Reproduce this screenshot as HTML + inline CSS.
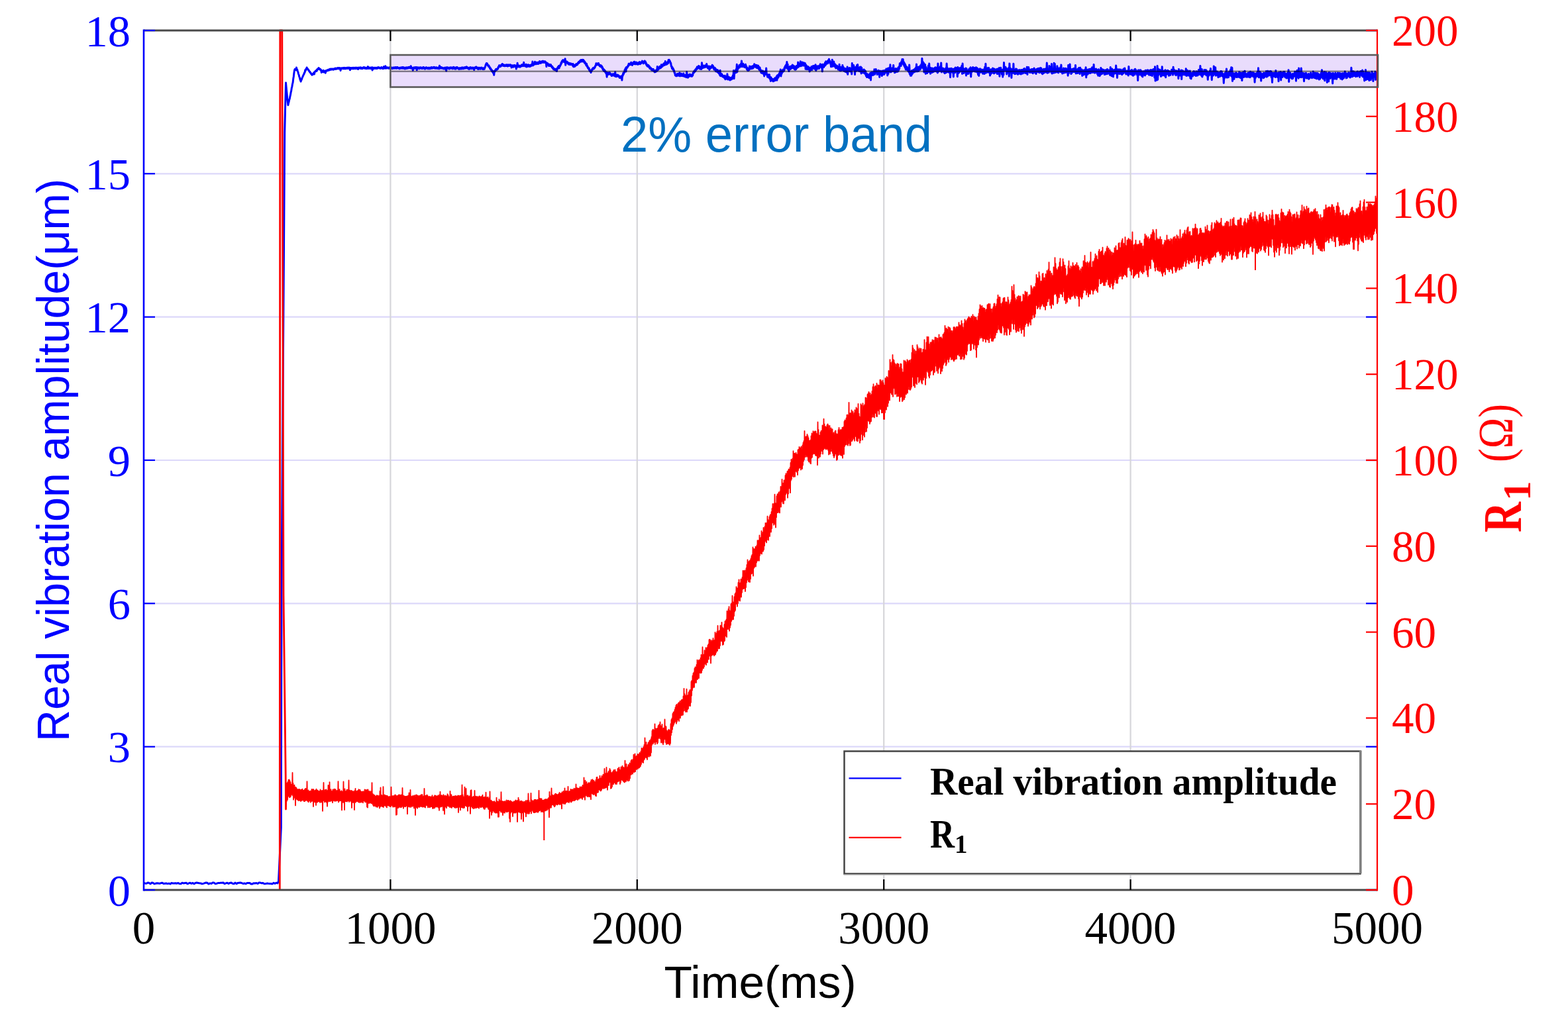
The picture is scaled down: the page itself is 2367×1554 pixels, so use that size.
<!DOCTYPE html><html><head><meta charset="utf-8"><title>Real vibration amplitude and R1 vs time</title>
<style>html,body{margin:0;padding:0;background:#fff;overflow:hidden;}svg{display:block;}.ser{font-family:"Liberation Serif","Times New Roman",serif;}.san{font-family:"Liberation Sans",Arial,sans-serif;}.mul{mix-blend-mode:multiply;}</style></head><body>
<svg width="2367" height="1554" viewBox="0 0 2367 1554">
<rect width="2367" height="1554" fill="#fff"/>
<line x1="217.0" y1="1127.7" x2="2079.0" y2="1127.7" stroke="#dcd8fa" stroke-width="2.2"/>
<line x1="217.0" y1="911.3" x2="2079.0" y2="911.3" stroke="#dcd8fa" stroke-width="2.2"/>
<line x1="217.0" y1="695.0" x2="2079.0" y2="695.0" stroke="#dcd8fa" stroke-width="2.2"/>
<line x1="217.0" y1="478.7" x2="2079.0" y2="478.7" stroke="#dcd8fa" stroke-width="2.2"/>
<line x1="217.0" y1="262.3" x2="2079.0" y2="262.3" stroke="#dcd8fa" stroke-width="2.2"/>
<line x1="589.4" y1="46.0" x2="589.4" y2="1344.0" stroke="#d6d6da" stroke-width="2.2"/>
<line x1="961.8" y1="46.0" x2="961.8" y2="1344.0" stroke="#d6d6da" stroke-width="2.2"/>
<line x1="1334.2" y1="46.0" x2="1334.2" y2="1344.0" stroke="#d6d6da" stroke-width="2.2"/>
<line x1="1706.6" y1="46.0" x2="1706.6" y2="1344.0" stroke="#d6d6da" stroke-width="2.2"/>
<rect x="589.4" y="83" width="1490.6" height="48.5" fill="#e9dcfc"/>
<path d="M217.0,1333.3 219.0,1334.0 221.0,1334.2 223.0,1333.1 225.0,1333.3 227.0,1334.9 229.0,1333.1 231.0,1333.3 233.0,1334.9 235.0,1334.2 237.0,1333.7 239.0,1334.0 241.0,1334.3 243.0,1333.6 245.0,1333.3 247.0,1334.6 249.0,1334.3 251.0,1334.0 253.0,1334.6 255.0,1334.1 257.0,1335.0 259.0,1333.4 261.0,1334.1 263.0,1334.0 265.0,1333.7 267.0,1334.2 269.0,1333.5 271.0,1334.6 273.0,1334.7 275.0,1333.3 277.0,1333.9 279.0,1333.6 281.0,1333.2 283.0,1334.8 285.0,1333.9 287.0,1333.3 289.0,1334.3 291.0,1333.4 293.0,1334.8 295.0,1333.4 297.0,1333.1 299.0,1333.4 301.0,1333.7 303.0,1333.9 305.0,1334.8 307.0,1334.4 309.0,1333.7 311.0,1333.0 313.0,1333.3 315.0,1335.0 317.0,1333.9 319.0,1334.4 321.0,1333.1 323.0,1333.1 325.0,1334.7 327.0,1334.2 329.0,1333.6 331.0,1333.6 333.0,1333.2 335.0,1333.3 337.0,1333.0 339.0,1334.7 341.0,1333.9 343.0,1333.3 345.0,1334.5 347.0,1333.4 349.0,1333.1 351.0,1334.2 353.0,1334.8 355.0,1333.1 357.0,1334.6 359.0,1333.4 361.0,1333.2 363.0,1333.0 365.0,1333.6 367.0,1334.5 369.0,1334.0 371.0,1334.7 373.0,1333.4 375.0,1333.6 377.0,1333.5 379.0,1335.0 381.0,1334.9 383.0,1333.7 385.0,1333.9 387.0,1333.6 389.0,1334.5 391.0,1333.1 393.0,1333.1 395.0,1333.8 397.0,1333.5 399.0,1334.7 401.0,1334.5 403.0,1334.1 405.0,1334.3 407.0,1334.4 409.0,1334.6 411.0,1334.9 413.0,1333.3 415.0,1334.3 417.0,1333.3 419.0,1333.9 420.5,1331.0 424.3,1250.0 425.0,900.0 429.7,200.0 431.5,125.0 432.5,135.9 433.1,141.7 433.7,148.8 434.3,154.2 434.9,158.8 435.5,155.5 436.1,153.7 436.7,150.6 437.3,149.0 437.9,145.6 438.5,143.2 439.1,139.5 439.7,137.1 440.3,132.9 440.9,130.6 441.5,126.8 442.1,124.6 442.7,119.3 443.3,115.5 443.9,110.2 444.5,106.3 445.1,104.5 445.7,105.4 446.3,104.4 446.9,105.6 447.5,101.9 448.1,105.5 448.7,105.1 449.3,107.9 449.9,108.7 450.5,111.6 451.1,112.8 451.7,115.8 452.3,116.9 452.9,119.8 453.5,121.0 454.1,123.1 454.7,120.9 455.3,120.4 455.9,118.0 456.5,117.2 457.1,115.1 457.7,114.5 458.3,112.4 458.9,112.1 459.5,109.6 460.1,109.4 460.7,105.8 461.3,106.5 461.9,104.3 462.5,103.9 463.1,102.0 463.7,103.5 464.3,103.7 464.9,105.3 465.5,105.0 466.1,106.8 466.7,106.9 467.3,108.6 467.9,108.3 468.5,110.0 469.1,110.0 469.7,111.6 470.3,111.7 470.9,113.3 471.5,112.2 472.1,112.5 472.7,111.0 473.3,111.1 473.9,109.5 474.5,112.0 475.1,108.4 475.7,108.5 476.3,107.0 476.9,107.7 477.5,106.2 478.1,107.4 478.7,104.7 479.3,105.2 479.9,103.7 480.5,103.8 481.1,102.5 481.7,104.1 482.3,103.7 482.9,105.0 483.5,104.4 484.1,106.1 484.7,105.7 485.3,109.5 485.9,106.6 486.5,107.9 487.1,107.3 487.7,108.8 488.3,106.3 488.9,109.0 489.5,107.5 490.1,108.6 490.7,107.3 491.3,110.2 491.9,106.8 492.5,107.4 493.1,106.2 493.7,106.9 494.3,105.9 494.9,106.6 495.5,105.3 496.1,106.2 496.7,105.1 497.3,105.8 497.9,104.4 498.5,105.3 499.1,104.1 499.7,105.2 500.3,104.0 500.9,105.0 501.5,104.0 502.1,104.7 502.7,104.1 503.3,105.2 503.9,104.1 504.5,104.6 505.1,103.5 505.7,104.1 506.3,103.1 506.9,104.4 507.5,103.2 508.1,104.1 508.7,103.1 509.3,103.6 509.9,102.7 510.5,103.7 511.1,102.5 511.7,103.6 512.3,102.5 512.9,103.8 513.5,102.9 514.1,106.5 514.7,103.0 515.3,104.0 515.9,102.8 516.5,103.5 517.1,102.7 517.7,103.7 518.3,102.5 518.9,103.7 519.5,102.4 520.1,103.7 520.7,102.5 521.3,103.6 521.9,102.5 522.5,103.6 523.1,102.5 523.7,103.2 524.3,102.2 524.9,103.4 525.5,102.4 526.1,103.3 526.7,102.1 527.3,103.3 527.9,102.2 528.5,105.8 529.1,102.4 529.7,103.5 530.3,102.5 530.9,103.7 531.5,102.5 532.1,103.7 532.7,102.3 533.3,103.6 533.9,102.3 534.5,103.6 535.1,102.4 535.7,103.4 536.3,102.2 536.9,103.6 537.5,102.2 538.1,103.4 538.7,102.3 539.3,103.4 539.9,102.3 540.5,104.5 541.1,102.3 541.7,103.2 542.3,102.1 542.9,102.9 543.5,102.2 544.1,103.4 544.7,101.9 545.3,103.2 545.9,102.6 546.5,103.8 547.1,102.6 547.7,103.1 548.3,101.9 548.9,103.0 549.5,101.6 550.1,103.0 550.7,102.1 551.3,103.4 551.9,102.4 552.5,103.4 553.1,102.4 553.7,103.6 554.3,102.1 554.9,103.1 555.5,100.6 556.1,103.5 556.7,102.2 557.3,103.2 557.9,102.1 558.5,103.5 559.1,102.4 559.7,103.5 560.3,102.1 560.9,103.0 561.5,101.9 562.1,106.0 562.7,102.1 563.3,103.6 563.9,102.7 564.5,103.8 565.1,102.2 565.7,103.3 566.3,102.3 566.9,103.3 567.5,102.2 568.1,103.5 568.7,102.2 569.3,103.4 569.9,102.1 570.5,103.0 571.1,101.6 571.7,102.8 572.3,101.9 572.9,102.9 573.5,102.3 574.1,103.4 574.7,102.2 575.3,103.1 575.9,101.6 576.5,102.8 577.1,102.1 577.7,103.6 578.3,102.8 578.9,103.5 579.5,100.6 580.1,103.0 580.7,101.8 581.3,102.9 581.9,99.7 582.5,103.2 583.1,101.8 583.7,102.9 584.3,101.7 584.9,102.8 585.5,102.1 586.1,103.1 586.7,102.3 587.3,103.2 587.9,101.9 588.5,103.2 589.1,102.3 589.7,103.1 590.3,101.8 590.9,103.1 591.5,102.3 592.1,103.6 592.7,102.3 593.3,103.5 593.9,102.0 594.5,102.7 595.1,101.9 595.7,103.2 596.3,101.8 596.9,102.8 597.5,101.5 598.1,103.2 598.7,101.8 599.3,103.1 599.9,101.5 600.5,102.8 601.1,102.1 601.7,103.1 602.3,102.5 602.9,103.8 603.5,102.4 604.1,103.2 604.7,102.0 605.3,103.1 605.9,102.1 606.5,103.0 607.1,101.6 607.7,103.2 608.3,101.6 608.9,103.3 609.5,101.8 610.1,103.4 610.7,102.4 611.3,104.0 611.9,102.6 612.5,103.4 613.1,101.9 613.7,103.5 614.3,102.1 614.9,103.2 615.5,101.9 616.1,103.0 616.7,101.5 617.3,102.6 617.9,101.2 618.5,102.4 619.1,101.2 619.7,103.1 620.3,99.7 620.9,102.8 621.5,102.0 622.1,103.6 622.7,102.5 623.3,106.2 623.9,102.2 624.5,103.0 625.1,101.7 625.7,103.4 626.3,102.1 626.9,103.1 627.5,101.5 628.1,103.0 628.7,101.8 629.3,105.8 629.9,101.8 630.5,102.8 631.1,101.9 631.7,103.3 632.3,102.1 632.9,103.9 633.5,102.0 634.1,103.0 634.7,101.7 635.3,103.3 635.9,102.0 636.5,103.5 637.1,102.8 637.7,103.5 638.3,101.9 638.9,103.4 639.5,101.5 640.1,103.0 640.7,102.4 641.3,104.1 641.9,102.7 642.5,103.7 643.1,101.8 643.7,102.9 644.3,102.0 644.9,103.3 645.5,102.5 646.1,103.8 646.7,102.2 647.3,103.6 647.9,102.4 648.5,103.8 649.1,102.2 649.7,103.7 650.3,102.1 650.9,103.2 651.5,101.6 652.1,103.1 652.7,102.1 653.3,103.0 653.9,101.9 654.5,102.5 655.1,101.3 655.7,102.9 656.3,101.7 656.9,103.1 657.5,102.0 658.1,103.3 658.7,101.7 659.3,103.1 659.9,102.3 660.5,103.4 661.1,102.2 661.7,103.4 662.3,101.9 662.9,103.9 663.5,99.2 664.1,103.3 664.7,101.9 665.3,103.0 665.9,101.3 666.5,103.1 667.1,102.1 667.7,103.1 668.3,102.3 668.9,103.8 669.5,102.7 670.1,103.9 670.7,102.5 671.3,104.0 671.9,102.1 672.5,104.0 673.1,102.2 673.7,107.0 674.3,101.8 674.9,103.4 675.5,101.9 676.1,102.9 676.7,102.2 677.3,103.6 677.9,102.8 678.5,104.0 679.1,102.0 679.7,103.0 680.3,101.9 680.9,103.1 681.5,102.0 682.1,103.3 682.7,102.1 683.3,103.9 683.9,101.8 684.5,103.4 685.1,101.4 685.7,103.5 686.3,102.4 686.9,104.1 687.5,102.3 688.1,104.0 688.7,101.7 689.3,103.2 689.9,101.5 690.5,103.0 691.1,102.2 691.7,103.7 692.3,102.8 692.9,104.4 693.5,102.7 694.1,104.2 694.7,102.6 695.3,104.0 695.9,102.7 696.5,104.0 697.1,102.0 697.7,103.8 698.3,102.0 698.9,103.6 699.5,102.3 700.1,103.6 700.7,102.0 701.3,102.9 701.9,101.6 702.5,103.1 703.1,101.6 703.7,102.8 704.3,100.9 704.9,102.9 705.5,101.7 706.1,103.2 706.7,102.4 707.3,104.1 707.9,102.6 708.5,104.3 709.1,102.1 709.7,103.6 710.3,101.6 710.9,103.5 711.5,102.2 712.1,103.8 712.7,102.4 713.3,103.4 713.9,102.1 714.5,103.6 715.1,102.4 715.7,105.5 716.3,102.4 716.9,103.2 717.5,101.5 718.1,102.8 718.7,101.0 719.3,103.0 719.9,101.6 720.5,103.7 721.1,102.6 721.7,104.5 722.3,102.3 722.9,104.0 723.5,102.4 724.1,104.0 724.7,102.5 725.3,104.3 725.9,102.4 726.5,103.5 727.1,102.1 727.7,104.0 728.3,102.9 728.9,104.5 729.5,102.9 730.1,104.6 730.7,103.0 731.3,104.2 731.9,101.6 732.5,101.1 733.1,98.1 733.7,97.0 734.3,95.5 734.9,97.4 735.5,95.9 736.1,98.5 736.7,98.3 737.3,100.4 737.9,99.0 738.5,101.3 739.1,101.0 739.7,103.6 740.3,102.8 740.9,105.2 741.5,104.6 742.1,107.0 742.7,106.0 743.3,108.5 743.9,107.2 744.5,110.3 745.1,108.6 745.7,113.3 746.3,107.4 746.9,108.2 747.5,106.0 748.1,106.6 748.7,104.4 749.3,105.7 749.9,104.2 750.5,105.0 751.1,103.2 751.7,103.9 752.3,100.9 752.9,101.3 753.5,98.8 754.1,100.0 754.7,98.8 755.3,100.8 755.9,99.0 756.5,99.6 757.1,97.6 757.7,98.1 758.3,96.5 758.9,99.1 759.5,97.6 760.1,99.5 760.7,97.8 761.3,99.6 761.9,98.6 762.5,99.7 763.1,98.4 763.7,99.3 764.3,97.7 764.9,99.5 765.5,98.2 766.1,100.0 766.7,97.9 767.3,99.6 767.9,98.0 768.5,99.4 769.1,98.0 769.7,99.2 770.3,97.7 770.9,99.6 771.5,98.4 772.1,101.9 772.7,99.2 773.3,100.7 773.9,98.7 774.5,101.2 775.1,99.4 775.7,100.6 776.3,98.5 776.9,100.5 777.5,98.7 778.1,100.5 778.7,99.3 779.3,104.1 779.9,99.1 780.5,101.1 781.1,95.3 781.7,101.1 782.3,99.2 782.9,100.8 783.5,99.0 784.1,101.0 784.7,99.7 785.3,101.1 785.9,99.4 786.5,100.1 787.1,98.3 787.7,99.9 788.3,97.6 788.9,99.3 789.5,98.4 790.1,99.7 790.7,94.2 791.3,99.1 791.9,98.1 792.5,99.9 793.1,98.0 793.7,100.3 794.3,97.3 794.9,100.9 795.5,99.0 796.1,100.5 796.7,98.0 797.3,99.4 797.9,97.8 798.5,100.3 799.1,98.5 799.7,100.5 800.3,98.6 800.9,100.2 801.5,98.0 802.1,99.4 802.7,97.2 803.3,98.7 803.9,92.9 804.5,99.0 805.1,96.6 805.7,98.0 806.3,95.5 806.9,97.1 807.5,93.3 808.1,96.8 808.7,95.1 809.3,96.8 809.9,94.4 810.5,96.2 811.1,94.4 811.7,96.5 812.3,94.3 812.9,96.3 813.5,93.7 814.1,95.4 814.7,92.4 815.3,95.3 815.9,93.6 816.5,95.4 817.1,93.4 817.7,94.3 818.3,92.6 818.9,94.4 819.5,92.3 820.1,94.2 820.7,92.7 821.3,94.4 821.9,92.9 822.5,94.1 823.1,92.8 823.7,95.0 824.3,94.4 824.9,100.5 825.5,95.1 826.1,97.2 826.7,95.7 827.3,97.9 827.9,97.0 828.5,99.5 829.1,97.2 829.7,99.4 830.3,97.7 830.9,99.4 831.5,97.6 832.1,100.1 832.7,99.6 833.3,102.0 833.9,100.5 834.5,103.1 835.1,102.3 835.7,104.8 836.3,103.5 836.9,105.4 837.5,104.1 838.1,105.8 838.7,104.3 839.3,106.4 839.9,104.4 840.5,107.6 841.1,103.0 841.7,103.7 842.3,100.9 842.9,101.6 843.5,99.6 844.1,102.9 844.7,99.3 845.3,100.3 845.9,97.8 846.5,98.0 847.1,94.6 847.7,95.7 848.3,92.3 848.9,93.5 849.5,90.7 850.1,91.8 850.7,90.9 851.3,93.5 851.9,92.3 852.5,94.1 853.1,88.7 853.7,98.3 854.3,92.9 854.9,94.9 855.5,92.9 856.1,94.0 856.7,93.8 857.3,96.1 857.9,95.1 858.5,97.3 859.1,95.2 859.7,97.2 860.3,95.7 860.9,97.7 861.5,95.9 862.1,97.3 862.7,96.3 863.3,97.7 863.9,97.2 864.5,99.3 865.1,96.4 865.7,100.7 866.3,99.1 866.9,100.7 867.5,98.4 868.1,100.1 868.7,97.8 869.3,98.7 869.9,96.6 870.5,98.3 871.1,96.5 871.7,97.7 872.3,95.1 872.9,95.9 873.5,93.5 874.1,95.0 874.7,92.7 875.3,93.9 875.9,91.2 876.5,92.9 877.1,90.5 877.7,93.1 878.3,90.9 878.9,92.5 879.5,90.2 880.1,92.9 880.7,90.5 881.3,93.2 881.9,92.1 882.5,95.1 883.1,93.7 883.7,96.2 884.3,95.9 884.9,98.7 885.5,96.3 886.1,100.2 886.7,99.4 887.3,102.4 887.9,101.7 888.5,104.1 889.1,102.9 889.7,106.2 890.3,105.6 890.9,108.0 891.5,106.9 892.1,109.6 892.7,105.9 893.3,107.0 893.9,104.3 894.5,105.0 895.1,102.7 895.7,103.6 896.3,102.2 896.9,103.6 897.5,101.6 898.1,101.9 898.7,99.3 899.3,99.2 899.9,95.8 900.5,98.1 901.1,96.2 901.7,97.9 902.3,95.9 902.9,96.9 903.5,95.5 904.1,98.5 904.7,97.5 905.3,99.9 905.9,98.9 906.5,100.8 907.1,98.6 907.7,100.8 908.3,99.5 908.9,102.6 909.5,101.6 910.1,105.3 910.7,103.8 911.3,106.7 911.9,105.2 912.5,107.7 913.1,106.3 913.7,109.0 914.3,108.2 914.9,110.8 915.5,109.5 916.1,116.2 916.7,109.6 917.3,111.4 917.9,109.9 918.5,112.5 919.1,109.9 919.7,111.6 920.3,109.4 920.9,112.1 921.5,111.0 922.1,113.0 922.7,111.9 923.3,114.6 923.9,112.6 924.5,114.1 925.1,111.8 925.7,113.6 926.3,111.7 926.9,114.2 927.5,112.5 928.1,114.9 928.7,108.7 929.3,115.6 929.9,113.7 930.5,115.7 931.1,113.1 931.7,115.0 932.3,113.0 932.9,115.3 933.5,113.6 934.1,116.0 934.7,114.8 935.3,117.5 935.9,115.5 936.5,117.6 937.1,115.4 937.7,117.7 938.3,114.9 938.9,121.1 939.5,113.7 940.1,114.6 940.7,110.6 941.3,112.0 941.9,108.9 942.5,109.6 943.1,105.6 943.7,106.1 944.3,103.0 944.9,108.0 945.5,101.6 946.1,103.2 946.7,101.2 947.3,101.6 947.9,99.1 948.5,99.8 949.1,96.2 949.7,98.0 950.3,96.2 950.9,97.7 951.5,96.1 952.1,97.7 952.7,94.2 953.3,96.8 953.9,95.2 954.5,98.5 955.1,95.6 955.7,96.8 956.3,94.1 956.9,94.8 957.5,93.2 958.1,96.7 958.7,94.6 959.3,96.9 959.9,94.1 960.5,96.3 961.1,94.1 961.7,96.9 962.3,95.2 962.9,97.2 963.5,95.3 964.1,96.8 964.7,93.9 965.3,96.2 965.9,93.6 966.5,96.7 967.1,94.2 967.7,95.9 968.3,93.8 968.9,94.3 969.5,92.1 970.1,94.5 970.7,93.0 971.3,95.9 971.9,93.2 972.5,94.7 973.1,92.0 973.7,94.4 974.3,92.8 974.9,96.5 975.5,95.3 976.1,98.8 976.7,97.9 977.3,100.2 977.9,98.0 978.5,100.5 979.1,98.7 979.7,101.5 980.3,100.2 980.9,103.6 981.5,101.6 982.1,103.7 982.7,102.7 983.3,105.3 983.9,104.7 984.5,106.3 985.1,104.4 985.7,106.4 986.3,104.5 986.9,107.0 987.5,106.6 988.1,108.9 988.7,107.0 989.3,108.7 989.9,106.3 990.5,108.0 991.1,105.5 991.7,107.0 992.3,100.5 992.9,106.1 993.5,103.2 994.1,104.8 994.7,101.8 995.3,102.9 995.9,100.4 996.5,103.0 997.1,100.8 997.7,102.4 998.3,97.7 998.9,101.3 999.5,98.1 1000.1,100.2 1000.7,97.5 1001.3,99.2 1001.9,96.0 1002.5,98.3 1003.1,95.2 1003.7,98.2 1004.3,92.6 1004.9,97.4 1005.5,95.0 1006.1,97.4 1006.7,94.8 1007.3,96.5 1007.9,93.2 1008.5,95.7 1009.1,90.4 1009.7,92.7 1010.3,90.4 1010.9,92.7 1011.5,92.5 1012.1,95.6 1012.7,95.1 1013.3,100.2 1013.9,100.0 1014.5,103.6 1015.1,101.7 1015.7,104.7 1016.3,103.5 1016.9,106.6 1017.5,106.1 1018.1,110.0 1018.7,110.0 1019.3,113.8 1019.9,112.7 1020.5,114.8 1021.1,112.7 1021.7,114.7 1022.3,111.5 1022.9,113.7 1023.5,111.5 1024.1,114.2 1024.7,112.6 1025.3,114.2 1025.9,109.7 1026.5,114.9 1027.1,112.2 1027.7,114.2 1028.3,111.2 1028.9,114.5 1029.5,111.8 1030.1,114.7 1030.7,112.5 1031.3,114.5 1031.9,111.0 1032.5,115.3 1033.1,113.1 1033.7,115.6 1034.3,113.5 1034.9,116.0 1035.5,112.9 1036.1,116.7 1036.7,108.4 1037.3,115.8 1037.9,113.5 1038.5,117.2 1039.1,113.1 1039.7,115.7 1040.3,113.8 1040.9,115.2 1041.5,112.1 1042.1,114.3 1042.7,112.8 1043.3,115.2 1043.9,113.1 1044.5,115.3 1045.1,112.7 1045.7,114.0 1046.3,109.6 1046.9,110.3 1047.5,107.8 1048.1,109.2 1048.7,106.2 1049.3,107.9 1049.9,104.8 1050.5,106.1 1051.1,103.3 1051.7,104.1 1052.3,101.0 1052.9,104.1 1053.5,100.8 1054.1,102.3 1054.7,99.5 1055.3,102.5 1055.9,100.1 1056.5,103.9 1057.1,101.3 1057.7,104.3 1058.3,101.4 1058.9,104.4 1059.5,94.8 1060.1,102.6 1060.7,99.7 1061.3,102.6 1061.9,99.1 1062.5,101.9 1063.1,99.9 1063.7,101.8 1064.3,98.9 1064.9,101.2 1065.5,98.6 1066.1,100.5 1066.7,96.5 1067.3,101.4 1067.9,99.6 1068.5,103.0 1069.1,100.2 1069.7,103.5 1070.3,100.0 1070.9,105.4 1071.5,100.6 1072.1,103.5 1072.7,100.4 1073.3,102.9 1073.9,100.2 1074.5,101.0 1075.1,98.2 1075.7,100.6 1076.3,99.3 1076.9,103.2 1077.5,102.1 1078.1,105.2 1078.7,101.9 1079.3,104.8 1079.9,103.2 1080.5,107.7 1081.1,104.8 1081.7,108.0 1082.3,105.5 1082.9,108.6 1083.5,105.8 1084.1,109.7 1084.7,107.4 1085.3,110.9 1085.9,108.6 1086.5,113.3 1087.1,106.2 1087.7,114.8 1088.3,111.7 1088.9,113.9 1089.5,111.6 1090.1,115.3 1090.7,113.4 1091.3,116.1 1091.9,114.9 1092.5,116.6 1093.1,114.5 1093.7,117.9 1094.3,114.2 1094.9,119.8 1095.5,115.8 1096.1,118.4 1096.7,115.4 1097.3,118.9 1097.9,111.8 1098.5,119.9 1099.1,116.2 1099.7,119.1 1100.3,116.1 1100.9,120.3 1101.5,117.1 1102.1,121.0 1102.7,117.8 1103.3,120.3 1103.9,117.2 1104.5,119.7 1105.1,116.6 1105.7,118.7 1106.3,114.0 1106.9,115.6 1107.5,106.6 1108.1,118.7 1108.7,109.1 1109.3,110.7 1109.9,106.8 1110.5,109.0 1111.1,104.8 1111.7,109.4 1112.3,97.3 1112.9,108.6 1113.5,101.8 1114.1,104.3 1114.7,101.0 1115.3,101.9 1115.9,98.4 1116.5,102.0 1117.1,98.1 1117.7,100.6 1118.3,96.4 1118.9,100.1 1119.5,91.9 1120.1,100.8 1120.7,97.9 1121.3,100.3 1121.9,96.2 1122.5,100.7 1123.1,97.9 1123.7,101.3 1124.3,98.4 1124.9,101.8 1125.5,97.2 1126.1,101.9 1126.7,99.9 1127.3,104.6 1127.9,102.2 1128.5,106.2 1129.1,104.0 1129.7,106.6 1130.3,102.9 1130.9,105.6 1131.5,100.0 1132.1,104.2 1132.7,100.6 1133.3,103.4 1133.9,100.4 1134.5,103.7 1135.1,100.6 1135.7,103.4 1136.3,99.8 1136.9,103.1 1137.5,99.3 1138.1,100.6 1138.7,96.8 1139.3,101.1 1139.9,97.9 1140.5,100.4 1141.1,98.2 1141.7,102.1 1142.3,98.5 1142.9,102.7 1143.5,99.0 1144.1,102.1 1144.7,99.2 1145.3,104.2 1145.9,101.2 1146.5,105.9 1147.1,102.1 1147.7,106.4 1148.3,105.5 1148.9,109.7 1149.5,106.6 1150.1,110.4 1150.7,107.1 1151.3,109.8 1151.9,107.1 1152.5,111.9 1153.1,110.0 1153.7,114.9 1154.3,108.4 1154.9,112.2 1155.5,107.6 1156.1,111.2 1156.7,103.1 1157.3,113.0 1157.9,112.0 1158.5,116.0 1159.1,113.0 1159.7,116.7 1160.3,112.8 1160.9,117.2 1161.5,112.8 1162.1,119.1 1162.7,116.4 1163.3,122.4 1163.9,116.8 1164.5,121.1 1165.1,118.6 1165.7,121.4 1166.3,119.5 1166.9,122.7 1167.5,120.1 1168.1,122.6 1168.7,119.0 1169.3,121.8 1169.9,117.8 1170.5,121.5 1171.1,118.3 1171.7,119.4 1172.3,115.3 1172.9,121.2 1173.5,113.8 1174.1,118.0 1174.7,113.4 1175.3,116.5 1175.9,111.5 1176.5,114.4 1177.1,108.8 1177.7,112.4 1178.3,104.9 1178.9,115.0 1179.5,108.8 1180.1,111.4 1180.7,106.8 1181.3,108.9 1181.9,105.3 1182.5,108.1 1183.1,104.8 1183.7,106.7 1184.3,101.8 1184.9,103.9 1185.5,99.5 1186.1,102.1 1186.7,97.8 1187.3,101.0 1187.9,93.4 1188.5,103.6 1189.1,96.9 1189.7,104.6 1190.3,101.2 1190.9,107.6 1191.5,102.4 1192.1,104.4 1192.7,100.2 1193.3,104.4 1193.9,100.7 1194.5,103.2 1195.1,99.4 1195.7,102.4 1196.3,97.9 1196.9,102.8 1197.5,98.9 1198.1,102.5 1198.7,99.6 1199.3,104.6 1199.9,100.7 1200.5,105.2 1201.1,100.5 1201.7,104.6 1202.3,99.4 1202.9,102.9 1203.5,99.3 1204.1,101.7 1204.7,93.9 1205.3,101.2 1205.9,97.0 1206.5,99.3 1207.1,96.1 1207.7,99.7 1208.3,92.8 1208.9,99.8 1209.5,95.4 1210.1,99.2 1210.7,94.0 1211.3,98.7 1211.9,94.3 1212.5,99.0 1213.1,96.0 1213.7,99.0 1214.3,95.1 1214.9,98.1 1215.5,95.7 1216.1,104.3 1216.7,98.0 1217.3,104.2 1217.9,99.6 1218.5,104.8 1219.1,100.7 1219.7,104.0 1220.3,100.7 1220.9,104.7 1221.5,102.1 1222.1,108.0 1222.7,103.2 1223.3,106.4 1223.9,102.1 1224.5,104.4 1225.1,100.5 1225.7,105.5 1226.3,101.0 1226.9,102.9 1227.5,99.5 1228.1,102.2 1228.7,99.6 1229.3,104.0 1229.9,98.9 1230.5,103.1 1231.1,97.8 1231.7,106.5 1232.3,99.8 1232.9,103.0 1233.5,100.2 1234.1,104.0 1234.7,99.8 1235.3,102.7 1235.9,100.3 1236.5,103.6 1237.1,98.9 1237.7,101.4 1238.3,96.7 1238.9,100.9 1239.5,97.5 1240.1,102.3 1240.7,98.7 1241.3,107.9 1241.9,97.2 1242.5,100.6 1243.1,98.1 1243.7,101.5 1244.3,97.1 1244.9,99.6 1245.5,94.6 1246.1,98.5 1246.7,92.8 1247.3,96.8 1247.9,93.3 1248.5,96.0 1249.1,92.6 1249.7,95.8 1250.3,91.1 1250.9,93.1 1251.5,89.2 1252.1,93.8 1252.7,91.9 1253.3,96.0 1253.9,94.0 1254.5,100.8 1255.1,94.9 1255.7,100.4 1256.3,90.2 1256.9,100.2 1257.5,95.1 1258.1,99.8 1258.7,93.0 1259.3,98.6 1259.9,96.3 1260.5,101.1 1261.1,97.4 1261.7,102.9 1262.3,98.9 1262.9,102.5 1263.5,99.3 1264.1,103.0 1264.7,100.7 1265.3,105.0 1265.9,101.5 1266.5,105.2 1267.1,97.3 1267.7,106.3 1268.3,103.0 1268.9,106.7 1269.5,101.4 1270.1,106.2 1270.7,101.4 1271.3,104.6 1271.9,98.5 1272.5,106.0 1273.1,101.3 1273.7,107.1 1274.3,103.5 1274.9,107.6 1275.5,103.2 1276.1,108.4 1276.7,104.2 1277.3,107.6 1277.9,103.7 1278.5,109.7 1279.1,101.1 1279.7,112.3 1280.3,104.2 1280.9,106.5 1281.5,102.9 1282.1,106.9 1282.7,102.4 1283.3,107.9 1283.9,103.5 1284.5,106.5 1285.1,103.7 1285.7,112.0 1286.3,95.4 1286.9,105.3 1287.5,101.5 1288.1,104.9 1288.7,98.6 1289.3,105.9 1289.9,102.3 1290.5,112.6 1291.1,101.8 1291.7,105.5 1292.3,101.3 1292.9,107.0 1293.5,98.4 1294.1,106.3 1294.7,97.6 1295.3,105.7 1295.9,101.9 1296.5,107.3 1297.1,103.0 1297.7,106.1 1298.3,101.3 1298.9,108.0 1299.5,101.1 1300.1,111.0 1300.7,102.2 1301.3,108.1 1301.9,105.5 1302.5,109.8 1303.1,105.9 1303.7,109.7 1304.3,105.0 1304.9,110.8 1305.5,106.2 1306.1,111.9 1306.7,107.6 1307.3,114.7 1307.9,111.0 1308.5,116.5 1309.1,111.5 1309.7,116.4 1310.3,112.7 1310.9,116.8 1311.5,112.9 1312.1,117.8 1312.7,111.7 1313.3,115.5 1313.9,110.2 1314.5,120.9 1315.1,109.8 1315.7,113.8 1316.3,109.1 1316.9,113.3 1317.5,109.1 1318.1,113.4 1318.7,108.9 1319.3,112.2 1319.9,104.8 1320.5,112.3 1321.1,105.5 1321.7,109.1 1322.3,104.6 1322.9,109.5 1323.5,107.4 1324.1,112.5 1324.7,107.8 1325.3,112.0 1325.9,106.3 1326.5,112.2 1327.1,107.4 1327.7,116.5 1328.3,107.0 1328.9,111.1 1329.5,107.5 1330.1,112.2 1330.7,108.3 1331.3,114.6 1331.9,107.0 1332.5,111.1 1333.1,107.5 1333.7,112.6 1334.3,106.4 1334.9,112.3 1335.5,106.9 1336.1,110.4 1336.7,105.7 1337.3,109.3 1337.9,104.1 1338.5,108.1 1339.1,104.4 1339.7,114.0 1340.3,103.2 1340.9,111.6 1341.5,103.0 1342.1,108.3 1342.7,102.2 1343.3,107.5 1343.9,97.8 1344.5,108.9 1345.1,103.7 1345.7,108.2 1346.3,103.3 1346.9,107.1 1347.5,102.6 1348.1,107.3 1348.7,98.4 1349.3,107.4 1349.9,104.0 1350.5,109.8 1351.1,105.0 1351.7,109.0 1352.3,103.4 1352.9,107.5 1353.5,104.0 1354.1,108.4 1354.7,104.0 1355.3,108.0 1355.9,101.9 1356.5,106.3 1357.1,100.7 1357.7,103.7 1358.3,95.7 1358.9,99.7 1359.5,95.4 1360.1,99.6 1360.7,93.1 1361.3,96.1 1361.9,89.6 1362.5,93.5 1363.1,89.4 1363.7,97.5 1364.3,93.5 1364.9,99.7 1365.5,95.6 1366.1,102.2 1366.7,97.6 1367.3,105.1 1367.9,100.3 1368.5,105.0 1369.1,100.9 1369.7,105.8 1370.3,102.7 1370.9,107.4 1371.5,104.7 1372.1,109.1 1372.7,97.9 1373.3,111.9 1373.9,108.8 1374.5,114.3 1375.1,109.3 1375.7,114.2 1376.3,106.7 1376.9,112.0 1377.5,106.6 1378.1,110.3 1378.7,105.7 1379.3,108.4 1379.9,105.0 1380.5,108.8 1381.1,103.9 1381.7,108.1 1382.3,102.4 1382.9,106.9 1383.5,97.0 1384.1,108.0 1384.7,102.4 1385.3,105.8 1385.9,101.4 1386.5,107.6 1387.1,100.9 1387.7,104.3 1388.3,100.7 1388.9,105.3 1389.5,98.9 1390.1,103.4 1390.7,97.3 1391.3,101.8 1391.9,88.3 1392.5,101.6 1393.1,93.2 1393.7,103.7 1394.3,94.9 1394.9,109.0 1395.5,96.7 1396.1,101.7 1396.7,97.8 1397.3,111.5 1397.9,101.3 1398.5,108.1 1399.1,104.5 1399.7,110.5 1400.3,104.6 1400.9,108.2 1401.5,99.1 1402.1,108.7 1402.7,96.1 1403.3,108.8 1403.9,102.0 1404.5,111.3 1405.1,102.6 1405.7,109.1 1406.3,103.2 1406.9,109.6 1407.5,102.9 1408.1,108.8 1408.7,103.4 1409.3,108.4 1409.9,103.4 1410.5,107.3 1411.1,102.5 1411.7,107.6 1412.3,101.7 1412.9,107.7 1413.5,102.2 1414.1,108.2 1414.7,102.4 1415.3,109.9 1415.9,96.1 1416.5,108.3 1417.1,102.0 1417.7,106.9 1418.3,102.2 1418.9,106.9 1419.5,100.5 1420.1,107.0 1420.7,94.9 1421.3,109.0 1421.9,104.4 1422.5,107.3 1423.1,102.9 1423.7,106.8 1424.3,103.4 1424.9,109.3 1425.5,104.4 1426.1,110.7 1426.7,105.1 1427.3,110.0 1427.9,102.7 1428.5,109.6 1429.1,96.0 1429.7,108.1 1430.3,102.7 1430.9,108.5 1431.5,103.9 1432.1,109.2 1432.7,104.2 1433.3,107.6 1433.9,103.6 1434.5,116.8 1435.1,104.2 1435.7,109.0 1436.3,103.3 1436.9,108.6 1437.5,105.6 1438.1,109.4 1438.7,104.2 1439.3,116.0 1439.9,104.7 1440.5,110.1 1441.1,103.3 1441.7,109.6 1442.3,102.1 1442.9,107.2 1443.5,102.6 1444.1,108.1 1444.7,105.0 1445.3,115.7 1445.9,101.6 1446.5,111.0 1447.1,102.8 1447.7,109.5 1448.3,103.4 1448.9,108.4 1449.5,102.5 1450.1,106.9 1450.7,102.1 1451.3,106.0 1451.9,99.3 1452.5,111.5 1453.1,96.1 1453.7,108.8 1454.3,103.4 1454.9,110.6 1455.5,105.6 1456.1,108.7 1456.7,104.1 1457.3,107.6 1457.9,103.0 1458.5,114.1 1459.1,103.8 1459.7,109.4 1460.3,106.5 1460.9,111.5 1461.5,106.7 1462.1,111.3 1462.7,104.6 1463.3,109.1 1463.9,103.2 1464.5,107.4 1465.1,101.8 1465.7,115.9 1466.3,104.1 1466.9,107.3 1467.5,102.8 1468.1,107.9 1468.7,101.6 1469.3,107.1 1469.9,102.2 1470.5,107.0 1471.1,102.5 1471.7,108.0 1472.3,103.5 1472.9,108.3 1473.5,101.8 1474.1,107.8 1474.7,102.5 1475.3,109.3 1475.9,103.5 1476.5,113.0 1477.1,104.4 1477.7,114.4 1478.3,104.7 1478.9,108.7 1479.5,103.8 1480.1,109.2 1480.7,105.4 1481.3,108.9 1481.9,105.1 1482.5,109.0 1483.1,105.6 1483.7,111.3 1484.3,106.2 1484.9,110.0 1485.5,104.6 1486.1,111.5 1486.7,101.3 1487.3,109.6 1487.9,96.3 1488.5,110.1 1489.1,103.1 1489.7,109.2 1490.3,103.2 1490.9,109.1 1491.5,102.5 1492.1,109.1 1492.7,102.4 1493.3,109.6 1493.9,105.0 1494.5,114.1 1495.1,105.5 1495.7,111.9 1496.3,104.8 1496.9,110.0 1497.5,105.9 1498.1,109.9 1498.7,102.9 1499.3,108.5 1499.9,104.3 1500.5,110.9 1501.1,104.1 1501.7,110.0 1502.3,105.3 1502.9,109.1 1503.5,104.9 1504.1,109.5 1504.7,104.6 1505.3,111.6 1505.9,103.9 1506.5,111.5 1507.1,104.0 1507.7,108.7 1508.3,102.6 1508.9,115.3 1509.5,104.1 1510.1,108.0 1510.7,102.2 1511.3,109.2 1511.9,106.9 1512.5,112.3 1513.1,105.5 1513.7,116.2 1514.3,105.0 1514.9,112.9 1515.5,94.6 1516.1,106.8 1516.7,102.7 1517.3,105.8 1517.9,101.2 1518.5,107.2 1519.1,102.9 1519.7,111.9 1520.3,106.7 1520.9,109.3 1521.5,104.4 1522.1,108.1 1522.7,102.4 1523.3,115.2 1523.9,95.9 1524.5,109.1 1525.1,103.0 1525.7,109.0 1526.3,103.9 1526.9,117.5 1527.5,104.8 1528.1,110.2 1528.7,106.9 1529.3,110.3 1529.9,96.3 1530.5,110.0 1531.1,105.2 1531.7,111.7 1532.3,105.3 1532.9,111.6 1533.5,104.0 1534.1,110.0 1534.7,104.2 1535.3,111.2 1535.9,105.9 1536.5,112.3 1537.1,106.5 1537.7,111.3 1538.3,105.8 1538.9,108.8 1539.5,105.8 1540.1,111.5 1540.7,108.1 1541.3,111.9 1541.9,105.4 1542.5,110.0 1543.1,105.8 1543.7,111.1 1544.3,105.2 1544.9,109.6 1545.5,104.0 1546.1,110.0 1546.7,103.4 1547.3,109.3 1547.9,105.2 1548.5,110.5 1549.1,104.7 1549.7,110.4 1550.3,101.2 1550.9,112.4 1551.5,102.4 1552.1,108.0 1552.7,101.6 1553.3,108.4 1553.9,104.8 1554.5,109.6 1555.1,105.6 1555.7,108.4 1556.3,105.3 1556.9,109.5 1557.5,104.5 1558.1,108.5 1558.7,104.6 1559.3,110.8 1559.9,105.3 1560.5,108.1 1561.1,102.9 1561.7,108.8 1562.3,104.9 1562.9,110.4 1563.5,107.6 1564.1,111.4 1564.7,104.4 1565.3,108.7 1565.9,104.0 1566.5,108.5 1567.1,103.5 1567.7,108.4 1568.3,103.3 1568.9,109.8 1569.5,104.3 1570.1,109.0 1570.7,102.5 1571.3,108.9 1571.9,103.0 1572.5,110.4 1573.1,105.8 1573.7,111.8 1574.3,105.3 1574.9,110.5 1575.5,104.2 1576.1,110.1 1576.7,104.9 1577.3,108.9 1577.9,104.1 1578.5,109.1 1579.1,104.1 1579.7,108.7 1580.3,95.0 1580.9,110.3 1581.5,105.0 1582.1,109.7 1582.7,105.4 1583.3,109.3 1583.9,99.6 1584.5,106.9 1585.1,100.8 1585.7,105.2 1586.3,102.5 1586.9,109.3 1587.5,96.6 1588.1,111.1 1588.7,104.7 1589.3,110.5 1589.9,105.9 1590.5,109.7 1591.1,95.2 1591.7,109.9 1592.3,96.2 1592.9,109.6 1593.5,104.4 1594.1,108.6 1594.7,104.8 1595.3,108.9 1595.9,99.8 1596.5,108.1 1597.1,102.5 1597.7,109.9 1598.3,103.5 1598.9,108.1 1599.5,103.3 1600.1,108.1 1600.7,101.7 1601.3,108.8 1601.9,97.9 1602.5,108.8 1603.1,106.1 1603.7,111.0 1604.3,105.2 1604.9,109.6 1605.5,102.9 1606.1,110.2 1606.7,104.4 1607.3,109.2 1607.9,103.4 1608.5,109.5 1609.1,103.3 1609.7,108.9 1610.3,104.4 1610.9,108.6 1611.5,104.9 1612.1,114.2 1612.7,98.4 1613.3,110.9 1613.9,99.4 1614.5,107.7 1615.1,96.9 1615.7,108.2 1616.3,104.2 1616.9,111.6 1617.5,104.9 1618.1,110.2 1618.7,104.6 1619.3,107.8 1619.9,104.1 1620.5,108.4 1621.1,103.5 1621.7,108.4 1622.3,104.3 1622.9,108.6 1623.5,98.6 1624.1,111.0 1624.7,104.9 1625.3,110.1 1625.9,105.0 1626.5,110.6 1627.1,104.2 1627.7,110.1 1628.3,102.7 1628.9,108.4 1629.5,102.4 1630.1,111.6 1630.7,102.3 1631.3,107.7 1631.9,104.6 1632.5,109.4 1633.1,105.1 1633.7,114.5 1634.3,106.3 1634.9,110.8 1635.5,106.4 1636.1,113.0 1636.7,105.7 1637.3,111.9 1637.9,106.5 1638.5,109.4 1639.1,101.8 1639.7,116.9 1640.3,105.2 1640.9,112.8 1641.5,105.8 1642.1,112.1 1642.7,104.9 1643.3,110.6 1643.9,104.7 1644.5,108.8 1645.1,104.2 1645.7,110.5 1646.3,105.2 1646.9,109.9 1647.5,103.6 1648.1,108.9 1648.7,101.7 1649.3,109.5 1649.9,103.7 1650.5,108.6 1651.1,97.4 1651.7,109.7 1652.3,105.0 1652.9,110.2 1653.5,104.6 1654.1,109.0 1654.7,104.1 1655.3,109.3 1655.9,105.6 1656.5,111.9 1657.1,106.2 1657.7,114.2 1658.3,104.7 1658.9,111.6 1659.5,106.4 1660.1,114.7 1660.7,106.1 1661.3,113.0 1661.9,102.4 1662.5,111.4 1663.1,104.2 1663.7,111.4 1664.3,105.1 1664.9,110.0 1665.5,105.3 1666.1,110.1 1666.7,107.1 1667.3,112.5 1667.9,106.1 1668.5,112.3 1669.1,105.8 1669.7,110.1 1670.3,105.7 1670.9,111.7 1671.5,104.4 1672.1,111.2 1672.7,107.2 1673.3,111.0 1673.9,106.1 1674.5,110.9 1675.1,107.0 1675.7,113.5 1676.3,101.6 1676.9,110.3 1677.5,105.1 1678.1,114.8 1678.7,104.1 1679.3,109.7 1679.9,105.7 1680.5,116.0 1681.1,106.2 1681.7,111.5 1682.3,105.3 1682.9,109.7 1683.5,105.3 1684.1,110.7 1684.7,99.1 1685.3,111.3 1685.9,104.1 1686.5,117.4 1687.1,105.7 1687.7,110.3 1688.3,105.1 1688.9,111.2 1689.5,104.8 1690.1,111.6 1690.7,107.4 1691.3,111.3 1691.9,105.1 1692.5,111.0 1693.1,107.0 1693.7,112.7 1694.3,105.9 1694.9,111.4 1695.5,104.8 1696.1,110.6 1696.7,103.8 1697.3,109.1 1697.9,103.0 1698.5,108.6 1699.1,106.7 1699.7,111.9 1700.3,108.4 1700.9,111.4 1701.5,107.0 1702.1,112.4 1702.7,107.6 1703.3,114.1 1703.9,100.4 1704.5,111.7 1705.1,106.9 1705.7,111.0 1706.3,107.4 1706.9,112.3 1707.5,106.3 1708.1,111.6 1708.7,105.5 1709.3,113.3 1709.9,107.3 1710.5,114.3 1711.1,107.6 1711.7,113.0 1712.3,105.2 1712.9,112.8 1713.5,104.2 1714.1,109.2 1714.7,105.6 1715.3,110.8 1715.9,107.7 1716.5,113.2 1717.1,109.5 1717.7,121.4 1718.3,106.1 1718.9,113.0 1719.5,105.9 1720.1,111.8 1720.7,106.0 1721.3,112.9 1721.9,105.8 1722.5,111.2 1723.1,107.5 1723.7,114.8 1724.3,109.5 1724.9,116.0 1725.5,108.0 1726.1,112.7 1726.7,107.8 1727.3,113.0 1727.9,108.2 1728.5,113.9 1729.1,106.2 1729.7,112.1 1730.3,106.3 1730.9,111.2 1731.5,107.1 1732.1,111.4 1732.7,105.7 1733.3,111.2 1733.9,106.4 1734.5,113.2 1735.1,107.3 1735.7,111.3 1736.3,105.9 1736.9,113.6 1737.5,105.5 1738.1,111.3 1738.7,107.4 1739.3,114.6 1739.9,105.4 1740.5,110.0 1741.1,104.5 1741.7,111.6 1742.3,106.2 1742.9,117.2 1743.5,100.7 1744.1,122.1 1744.7,109.5 1745.3,115.3 1745.9,110.9 1746.5,120.9 1747.1,99.6 1747.7,120.2 1748.3,103.7 1748.9,113.4 1749.5,107.3 1750.1,111.5 1750.7,105.2 1751.3,111.9 1751.9,106.8 1752.5,115.5 1753.1,106.0 1753.7,110.2 1754.3,100.7 1754.9,114.0 1755.5,106.7 1756.1,113.1 1756.7,108.1 1757.3,113.8 1757.9,106.8 1758.5,114.6 1759.1,105.8 1759.7,116.8 1760.3,106.7 1760.9,112.2 1761.5,107.4 1762.1,111.2 1762.7,106.3 1763.3,112.0 1763.9,106.9 1764.5,114.3 1765.1,107.6 1765.7,113.4 1766.3,109.2 1766.9,113.2 1767.5,108.1 1768.1,110.8 1768.7,105.2 1769.3,109.9 1769.9,107.1 1770.5,113.2 1771.1,101.2 1771.7,110.5 1772.3,105.0 1772.9,109.4 1773.5,106.4 1774.1,112.8 1774.7,108.5 1775.3,113.7 1775.9,106.7 1776.5,112.4 1777.1,108.2 1777.7,112.5 1778.3,107.2 1778.9,118.7 1779.5,104.4 1780.1,112.0 1780.7,107.6 1781.3,114.1 1781.9,109.4 1782.5,111.7 1783.1,106.1 1783.7,119.6 1784.3,106.4 1784.9,112.4 1785.5,106.8 1786.1,112.8 1786.7,107.8 1787.3,112.2 1787.9,108.3 1788.5,113.0 1789.1,108.2 1789.7,113.1 1790.3,103.7 1790.9,114.5 1791.5,107.6 1792.1,114.1 1792.7,106.3 1793.3,111.9 1793.9,107.6 1794.5,114.1 1795.1,108.9 1795.7,114.5 1796.3,107.1 1796.9,118.1 1797.5,110.3 1798.1,118.9 1798.7,110.5 1799.3,114.4 1799.9,111.1 1800.5,115.1 1801.1,108.6 1801.7,112.6 1802.3,107.4 1802.9,113.0 1803.5,109.4 1804.1,113.8 1804.7,109.6 1805.3,114.5 1805.9,107.8 1806.5,114.1 1807.1,108.7 1807.7,114.0 1808.3,108.1 1808.9,113.0 1809.5,105.6 1810.1,112.5 1810.7,106.4 1811.3,112.2 1811.9,99.6 1812.5,113.0 1813.1,107.8 1813.7,114.4 1814.3,104.5 1814.9,116.1 1815.5,110.6 1816.1,113.3 1816.7,108.4 1817.3,111.2 1817.9,105.6 1818.5,111.8 1819.1,107.6 1819.7,112.2 1820.3,105.6 1820.9,113.7 1821.5,106.8 1822.1,113.1 1822.7,109.6 1823.3,120.3 1823.9,108.9 1824.5,114.5 1825.1,108.9 1825.7,113.0 1826.3,106.9 1826.9,111.4 1827.5,103.4 1828.1,113.3 1828.7,109.5 1829.3,120.7 1829.9,109.5 1830.5,113.7 1831.1,107.5 1831.7,114.0 1832.3,99.9 1832.9,111.6 1833.5,106.5 1834.1,112.1 1834.7,101.7 1835.3,114.2 1835.9,108.2 1836.5,113.6 1837.1,108.1 1837.7,113.6 1838.3,109.1 1838.9,116.7 1839.5,111.4 1840.1,115.8 1840.7,109.3 1841.3,115.7 1841.9,109.2 1842.5,114.7 1843.1,107.4 1843.7,112.8 1844.3,107.9 1844.9,114.7 1845.5,110.9 1846.1,115.7 1846.7,112.1 1847.3,125.4 1847.9,113.8 1848.5,118.2 1849.1,110.4 1849.7,115.8 1850.3,108.8 1850.9,116.3 1851.5,103.9 1852.1,117.3 1852.7,110.5 1853.3,115.4 1853.9,111.3 1854.5,116.7 1855.1,108.7 1855.7,113.9 1856.3,107.9 1856.9,111.4 1857.5,105.6 1858.1,114.3 1858.7,101.8 1859.3,115.5 1859.9,102.3 1860.5,122.4 1861.1,113.0 1861.7,116.9 1862.3,110.8 1862.9,119.4 1863.5,111.6 1864.1,115.6 1864.7,110.8 1865.3,116.0 1865.9,109.7 1866.5,116.6 1867.1,110.8 1867.7,116.3 1868.3,111.9 1868.9,116.3 1869.5,111.4 1870.1,116.1 1870.7,108.7 1871.3,116.7 1871.9,110.0 1872.5,117.6 1873.1,110.1 1873.7,117.9 1874.3,111.8 1874.9,121.6 1875.5,110.3 1876.1,115.3 1876.7,108.8 1877.3,116.5 1877.9,110.7 1878.5,115.7 1879.1,107.2 1879.7,115.7 1880.3,110.9 1880.9,115.8 1881.5,111.8 1882.1,116.2 1882.7,112.9 1883.3,115.9 1883.9,110.2 1884.5,116.1 1885.1,109.5 1885.7,116.3 1886.3,113.3 1886.9,116.8 1887.5,108.2 1888.1,115.8 1888.7,110.3 1889.3,114.3 1889.9,109.5 1890.5,113.4 1891.1,109.5 1891.7,115.7 1892.3,109.7 1892.9,116.2 1893.5,111.2 1894.1,124.2 1894.7,111.2 1895.3,117.6 1895.9,111.3 1896.5,115.6 1897.1,110.5 1897.7,114.4 1898.3,108.3 1898.9,115.3 1899.5,102.8 1900.1,116.8 1900.7,111.9 1901.3,116.7 1901.9,108.5 1902.5,115.1 1903.1,110.0 1903.7,122.1 1904.3,111.6 1904.9,117.0 1905.5,112.4 1906.1,116.6 1906.7,111.2 1907.3,117.8 1907.9,109.9 1908.5,116.8 1909.1,110.4 1909.7,115.3 1910.3,110.7 1910.9,115.1 1911.5,107.6 1912.1,116.2 1912.7,110.2 1913.3,115.3 1913.9,107.3 1914.5,114.3 1915.1,107.9 1915.7,112.7 1916.3,109.7 1916.9,113.8 1917.5,107.4 1918.1,113.9 1918.7,107.8 1919.3,117.0 1919.9,111.5 1920.5,124.4 1921.1,110.3 1921.7,114.6 1922.3,111.3 1922.9,115.3 1923.5,110.2 1924.1,115.5 1924.7,110.2 1925.3,116.6 1925.9,106.4 1926.5,115.2 1927.1,110.4 1927.7,116.1 1928.3,110.4 1928.9,116.7 1929.5,111.9 1930.1,122.8 1930.7,109.3 1931.3,114.4 1931.9,110.4 1932.5,114.3 1933.1,108.6 1933.7,121.0 1934.3,109.4 1934.9,116.5 1935.5,109.4 1936.1,116.4 1936.7,109.6 1937.3,113.8 1937.9,108.4 1938.5,114.4 1939.1,108.5 1939.7,116.3 1940.3,111.1 1940.9,117.0 1941.5,111.6 1942.1,118.1 1942.7,112.4 1943.3,117.0 1943.9,109.6 1944.5,118.0 1945.1,105.8 1945.7,123.5 1946.3,112.9 1946.9,116.9 1947.5,109.7 1948.1,117.1 1948.7,111.9 1949.3,117.7 1949.9,114.8 1950.5,119.0 1951.1,111.4 1951.7,118.4 1952.3,112.4 1952.9,115.8 1953.5,111.0 1954.1,114.8 1954.7,108.2 1955.3,113.9 1955.9,110.1 1956.5,122.2 1957.1,108.0 1957.7,117.0 1958.3,106.2 1958.9,114.4 1959.5,109.8 1960.1,118.2 1960.7,103.0 1961.3,115.9 1961.9,110.4 1962.5,116.5 1963.1,112.9 1963.7,116.5 1964.3,103.0 1964.9,116.7 1965.5,110.1 1966.1,115.0 1966.7,110.2 1967.3,116.5 1967.9,110.8 1968.5,122.7 1969.1,110.9 1969.7,117.1 1970.3,111.6 1970.9,117.3 1971.5,110.3 1972.1,118.1 1972.7,112.5 1973.3,118.0 1973.9,112.5 1974.5,117.7 1975.1,111.5 1975.7,119.3 1976.3,113.3 1976.9,118.2 1977.5,111.8 1978.1,117.0 1978.7,109.7 1979.3,116.7 1979.9,112.4 1980.5,117.8 1981.1,114.0 1981.7,116.9 1982.3,107.9 1982.9,116.1 1983.5,110.2 1984.1,117.7 1984.7,110.3 1985.3,115.8 1985.9,110.3 1986.5,118.5 1987.1,111.9 1987.7,118.9 1988.3,110.6 1988.9,118.2 1989.5,110.9 1990.1,118.8 1990.7,112.0 1991.3,120.1 1991.9,114.7 1992.5,119.3 1993.1,112.5 1993.7,116.1 1994.3,110.1 1994.9,117.1 1995.5,105.7 1996.1,115.6 1996.7,111.7 1997.3,119.0 1997.9,109.9 1998.5,114.9 1999.1,108.5 1999.7,121.8 2000.3,110.9 2000.9,116.9 2001.5,108.9 2002.1,116.7 2002.7,111.2 2003.3,124.4 2003.9,111.1 2004.5,117.1 2005.1,110.4 2005.7,123.0 2006.3,109.5 2006.9,115.6 2007.5,109.9 2008.1,118.4 2008.7,110.9 2009.3,115.9 2009.9,110.9 2010.5,117.1 2011.1,112.7 2011.7,126.0 2012.3,110.4 2012.9,117.8 2013.5,111.8 2014.1,119.1 2014.7,112.6 2015.3,117.9 2015.9,110.1 2016.5,119.1 2017.1,112.2 2017.7,119.3 2018.3,111.7 2018.9,116.5 2019.5,110.0 2020.1,114.2 2020.7,111.1 2021.3,116.4 2021.9,110.6 2022.5,116.1 2023.1,110.7 2023.7,118.9 2024.3,112.4 2024.9,117.9 2025.5,111.3 2026.1,120.0 2026.7,110.7 2027.3,118.6 2027.9,111.3 2028.5,118.0 2029.1,110.5 2029.7,115.4 2030.3,108.1 2030.9,113.6 2031.5,110.2 2032.1,117.9 2032.7,111.2 2033.3,117.6 2033.9,111.2 2034.5,115.1 2035.1,110.6 2035.7,114.5 2036.3,109.5 2036.9,116.1 2037.5,111.5 2038.1,117.0 2038.7,111.1 2039.3,116.0 2039.9,102.2 2040.5,115.7 2041.1,109.4 2041.7,115.8 2042.3,107.7 2042.9,113.1 2043.5,108.1 2044.1,114.6 2044.7,110.2 2045.3,114.6 2045.9,109.3 2046.5,115.7 2047.1,109.8 2047.7,114.9 2048.3,108.8 2048.9,115.3 2049.5,108.0 2050.1,113.9 2050.7,110.1 2051.3,114.3 2051.9,109.3 2052.5,116.5 2053.1,108.2 2053.7,112.2 2054.3,107.4 2054.9,113.1 2055.5,110.0 2056.1,114.7 2056.7,106.0 2057.3,116.0 2057.9,108.0 2058.5,115.8 2059.1,110.9 2059.7,122.0 2060.3,111.7 2060.9,116.5 2061.5,105.6 2062.1,120.6 2062.7,109.2 2063.3,116.9 2063.9,113.1 2064.5,119.6 2065.1,109.4 2065.7,118.4 2066.3,113.7 2066.9,121.6 2067.5,109.8 2068.1,116.6 2068.7,112.2 2069.3,120.7 2069.9,112.4 2070.5,117.7 2071.1,108.3 2071.7,117.8 2072.3,111.1 2072.9,122.6 2073.5,112.2 2074.1,115.7 2074.7,110.7 2075.3,115.2 2075.9,108.3 2076.5,120.5 2077.1,109.5 2077.7,116.7 2078.3,112.4 2078.9,117.0" fill="none" stroke="#00f" stroke-width="3" stroke-linejoin="round"/>
<path d="M422.3,1345.0 422.8,46.0 425.8,46.0 428.0,900.0 431.2,1170.0 431.5,1222.0 432.0,1195.0" fill="none" stroke="#f00" stroke-width="2.8" stroke-linejoin="round"/>
<path d="M432.0,1209.0 432.5,1183.0 433.0,1209.5 433.5,1182.7 434.0,1207.7 434.5,1180.9 435.0,1202.8 435.5,1177.8 436.0,1201.4 436.5,1177.3 437.0,1204.3 437.5,1179.1 438.0,1203.7 438.5,1181.3 439.0,1202.5 439.5,1184.6 440.0,1200.3 440.5,1184.7 441.0,1198.5 441.5,1167.0 442.0,1201.5 442.5,1182.8 443.0,1207.7 443.5,1186.6 444.0,1201.4 444.5,1185.7 445.0,1205.1 445.5,1189.3 446.0,1216.4 446.5,1188.8 447.0,1206.4 447.5,1190.1 448.0,1206.8 448.5,1192.3 449.0,1207.9 449.5,1192.1 450.0,1207.8 450.5,1192.6 451.0,1209.1 451.5,1192.0 452.0,1208.3 452.5,1192.4 453.0,1208.6 453.5,1193.5 454.0,1210.0 454.5,1192.8 455.0,1209.0 455.5,1192.3 456.0,1207.7 456.5,1191.6 457.0,1208.6 457.5,1193.9 458.0,1207.8 458.5,1194.0 459.0,1210.1 459.5,1193.1 460.0,1210.0 460.5,1191.4 461.0,1209.0 461.5,1191.0 462.0,1207.8 462.5,1193.9 463.0,1208.7 463.5,1180.2 464.0,1209.3 464.5,1194.1 465.0,1210.6 465.5,1193.5 466.0,1211.1 466.5,1195.7 467.0,1209.4 467.5,1195.2 468.0,1208.5 468.5,1194.6 469.0,1211.6 469.5,1194.9 470.0,1210.1 470.5,1191.9 471.0,1209.7 471.5,1193.6 472.0,1209.7 472.5,1192.0 473.0,1218.1 473.5,1192.3 474.0,1210.3 474.5,1195.2 475.0,1211.4 475.5,1193.8 476.0,1210.9 476.5,1193.4 477.0,1215.9 477.5,1191.7 478.0,1210.9 478.5,1194.3 479.0,1211.7 479.5,1193.3 480.0,1210.3 480.5,1194.8 481.0,1210.4 481.5,1195.0 482.0,1210.0 482.5,1195.7 483.0,1211.9 483.5,1192.5 484.0,1208.3 484.5,1194.7 485.0,1211.5 485.5,1194.1 486.0,1211.2 486.5,1193.9 487.0,1224.8 487.5,1195.4 488.0,1208.5 488.5,1181.9 489.0,1209.0 489.5,1193.0 490.0,1211.4 490.5,1196.1 491.0,1209.8 491.5,1192.6 492.0,1210.7 492.5,1192.3 493.0,1211.8 493.5,1195.2 494.0,1217.7 494.5,1193.7 495.0,1211.0 495.5,1185.8 496.0,1209.2 496.5,1193.5 497.0,1210.0 497.5,1181.2 498.0,1210.0 498.5,1193.0 499.0,1209.7 499.5,1192.2 500.0,1209.5 500.5,1195.0 501.0,1208.3 501.5,1195.4 502.0,1212.2 502.5,1192.3 503.0,1209.1 503.5,1195.3 504.0,1207.5 504.5,1191.6 505.0,1209.8 505.5,1192.2 506.0,1208.4 506.5,1192.2 507.0,1209.8 507.5,1195.3 508.0,1209.0 508.5,1194.0 509.0,1208.6 509.5,1194.2 510.0,1209.0 510.5,1180.1 511.0,1211.4 511.5,1196.0 512.0,1209.6 512.5,1192.1 513.0,1208.9 513.5,1195.1 514.0,1209.3 514.5,1196.6 515.0,1208.9 515.5,1194.2 516.0,1223.4 516.5,1195.6 517.0,1209.3 517.5,1195.6 518.0,1211.8 518.5,1180.4 519.0,1211.7 519.5,1194.4 520.0,1223.1 520.5,1191.3 521.0,1208.4 521.5,1195.1 522.0,1210.2 522.5,1195.2 523.0,1210.2 523.5,1193.0 524.0,1210.7 524.5,1192.7 525.0,1209.3 525.5,1193.7 526.0,1208.8 526.5,1178.5 527.0,1211.0 527.5,1195.3 528.0,1209.5 528.5,1193.6 529.0,1208.6 529.5,1196.0 530.0,1210.7 530.5,1193.8 531.0,1219.9 531.5,1194.7 532.0,1210.2 532.5,1196.0 533.0,1211.9 533.5,1195.1 534.0,1210.8 534.5,1196.4 535.0,1223.1 535.5,1194.1 536.0,1211.4 536.5,1191.0 537.0,1211.7 537.5,1194.9 538.0,1209.8 538.5,1195.0 539.0,1210.1 539.5,1194.7 540.0,1209.6 540.5,1193.8 541.0,1211.5 541.5,1192.1 542.0,1209.0 542.5,1192.8 543.0,1211.9 543.5,1192.9 544.0,1211.4 544.5,1195.2 545.0,1211.4 545.5,1195.6 546.0,1211.2 546.5,1196.4 547.0,1211.4 547.5,1195.3 548.0,1212.3 548.5,1195.4 549.0,1209.4 549.5,1196.0 550.0,1209.4 550.5,1192.5 551.0,1210.9 551.5,1193.5 552.0,1211.4 552.5,1192.9 553.0,1210.3 553.5,1194.6 554.0,1218.6 554.5,1192.6 555.0,1219.5 555.5,1192.5 556.0,1210.8 556.5,1195.7 557.0,1213.1 557.5,1194.8 558.0,1212.0 558.5,1197.6 559.0,1212.7 559.5,1195.2 560.0,1212.1 560.5,1195.6 561.0,1213.4 561.5,1182.1 562.0,1213.4 562.5,1198.9 563.0,1215.5 563.5,1199.7 564.0,1217.2 564.5,1201.0 565.0,1217.1 565.5,1200.9 566.0,1216.7 566.5,1202.6 567.0,1217.4 567.5,1203.4 568.0,1218.5 568.5,1201.1 569.0,1217.5 569.5,1202.2 570.0,1218.9 570.5,1201.3 571.0,1216.5 571.5,1203.3 572.0,1217.1 572.5,1201.9 573.0,1220.6 573.5,1195.0 574.0,1218.4 574.5,1189.4 575.0,1217.2 575.5,1200.4 576.0,1217.1 576.5,1201.4 577.0,1218.3 577.5,1202.7 578.0,1217.7 578.5,1188.1 579.0,1219.0 579.5,1202.5 580.0,1215.9 580.5,1200.5 581.0,1216.6 581.5,1201.5 582.0,1216.5 582.5,1201.5 583.0,1218.4 583.5,1201.8 584.0,1219.4 584.5,1201.7 585.0,1216.0 585.5,1203.2 586.0,1216.3 586.5,1204.2 587.0,1216.7 587.5,1203.0 588.0,1217.4 588.5,1204.1 589.0,1217.8 589.5,1202.6 590.0,1218.1 590.5,1188.6 591.0,1216.2 591.5,1202.2 592.0,1216.0 592.5,1202.6 593.0,1218.5 593.5,1202.0 594.0,1217.5 594.5,1202.8 595.0,1218.5 595.5,1201.3 596.0,1217.8 596.5,1200.4 597.0,1217.9 597.5,1201.1 598.0,1230.7 598.5,1203.4 599.0,1230.1 599.5,1201.8 600.0,1219.6 600.5,1202.4 601.0,1220.3 601.5,1201.0 602.0,1218.0 602.5,1200.2 603.0,1219.0 603.5,1200.9 604.0,1216.8 604.5,1201.2 605.0,1219.3 605.5,1200.4 606.0,1218.9 606.5,1203.9 607.0,1216.0 607.5,1189.9 608.0,1218.0 608.5,1201.2 609.0,1220.8 609.5,1202.2 610.0,1216.8 610.5,1202.4 611.0,1218.0 611.5,1202.8 612.0,1218.3 612.5,1202.8 613.0,1217.0 613.5,1202.9 614.0,1215.9 614.5,1202.5 615.0,1229.2 615.5,1202.3 616.0,1216.1 616.5,1201.5 617.0,1218.0 617.5,1197.3 618.0,1218.7 618.5,1201.8 619.0,1216.2 619.5,1192.9 620.0,1218.9 620.5,1202.1 621.0,1216.1 621.5,1203.6 622.0,1217.9 622.5,1203.0 623.0,1216.8 623.5,1201.5 624.0,1217.4 624.5,1203.7 625.0,1220.4 625.5,1201.9 626.0,1218.4 626.5,1200.9 627.0,1230.9 627.5,1204.2 628.0,1216.9 628.5,1200.4 629.0,1219.2 629.5,1200.8 630.0,1220.8 630.5,1202.7 631.0,1218.3 631.5,1201.8 632.0,1218.6 632.5,1203.7 633.0,1218.9 633.5,1201.6 634.0,1218.1 634.5,1202.0 635.0,1216.6 635.5,1200.4 636.0,1217.9 636.5,1200.1 637.0,1218.1 637.5,1200.1 638.0,1218.7 638.5,1204.0 639.0,1218.3 639.5,1202.3 640.0,1218.2 640.5,1190.9 641.0,1218.8 641.5,1203.2 642.0,1219.5 642.5,1201.6 643.0,1216.4 643.5,1202.1 644.0,1215.2 644.5,1200.4 645.0,1216.6 645.5,1201.8 646.0,1219.4 646.5,1203.1 647.0,1218.8 647.5,1203.3 648.0,1218.6 648.5,1202.8 649.0,1219.4 649.5,1203.4 650.0,1217.9 650.5,1203.7 651.0,1218.1 651.5,1203.4 652.0,1218.1 652.5,1201.1 653.0,1220.8 653.5,1204.0 654.0,1220.8 654.5,1204.2 655.0,1218.7 655.5,1202.4 656.0,1220.4 656.5,1201.1 657.0,1218.7 657.5,1201.9 658.0,1218.4 658.5,1202.2 659.0,1218.2 659.5,1202.7 660.0,1218.6 660.5,1202.3 661.0,1217.2 661.5,1201.1 662.0,1219.8 662.5,1203.4 663.0,1223.8 663.5,1200.4 664.0,1218.9 664.5,1195.7 665.0,1218.1 665.5,1201.3 666.0,1218.4 666.5,1201.2 667.0,1217.5 667.5,1201.3 668.0,1217.5 668.5,1202.8 669.0,1223.9 669.5,1200.1 670.0,1217.4 670.5,1202.2 671.0,1229.4 671.5,1202.5 672.0,1218.8 672.5,1201.4 673.0,1217.4 673.5,1203.1 674.0,1220.3 674.5,1202.3 675.0,1216.2 675.5,1199.1 676.0,1217.0 676.5,1201.0 677.0,1217.6 677.5,1203.4 678.0,1216.6 678.5,1203.3 679.0,1219.1 679.5,1194.8 680.0,1217.7 680.5,1199.6 681.0,1219.5 681.5,1200.7 682.0,1219.9 682.5,1204.7 683.0,1217.4 683.5,1203.0 684.0,1218.0 684.5,1203.0 685.0,1218.2 685.5,1202.5 686.0,1219.7 686.5,1203.6 687.0,1217.6 687.5,1201.8 688.0,1220.1 688.5,1202.1 689.0,1219.1 689.5,1202.9 690.0,1219.4 690.5,1202.4 691.0,1217.9 691.5,1201.3 692.0,1226.9 692.5,1201.8 693.0,1218.9 693.5,1202.4 694.0,1218.2 694.5,1201.7 695.0,1223.4 695.5,1201.8 696.0,1219.1 696.5,1200.9 697.0,1219.4 697.5,1185.4 698.0,1218.8 698.5,1200.4 699.0,1220.2 699.5,1203.3 700.0,1220.1 700.5,1203.8 701.0,1219.7 701.5,1188.6 702.0,1216.6 702.5,1201.0 703.0,1216.4 703.5,1191.0 704.0,1217.2 704.5,1203.5 705.0,1218.1 705.5,1201.5 706.0,1224.7 706.5,1201.3 707.0,1218.0 707.5,1203.7 708.0,1216.8 708.5,1203.2 709.0,1217.2 709.5,1201.9 710.0,1228.8 710.5,1194.0 711.0,1217.9 711.5,1193.1 712.0,1217.9 712.5,1204.0 713.0,1220.2 713.5,1204.5 714.0,1217.5 714.5,1202.9 715.0,1221.2 715.5,1205.5 716.0,1218.6 716.5,1194.0 717.0,1220.4 717.5,1204.5 718.0,1217.8 718.5,1202.6 719.0,1220.2 719.5,1204.4 720.0,1218.8 720.5,1202.8 721.0,1219.4 721.5,1205.5 722.0,1219.3 722.5,1203.5 723.0,1220.7 723.5,1202.3 724.0,1216.9 724.5,1202.7 725.0,1218.8 725.5,1203.8 726.0,1219.2 726.5,1203.5 727.0,1218.6 727.5,1202.7 728.0,1217.0 728.5,1200.6 729.0,1218.6 729.5,1204.1 730.0,1220.4 730.5,1204.4 731.0,1221.9 731.5,1203.6 732.0,1221.7 732.5,1204.6 733.0,1219.0 733.5,1196.7 734.0,1218.9 734.5,1204.2 735.0,1218.6 735.5,1205.1 736.0,1219.0 736.5,1203.6 737.0,1221.5 737.5,1206.8 738.0,1222.2 738.5,1205.1 739.0,1235.7 739.5,1195.4 740.0,1222.8 740.5,1209.3 741.0,1225.5 741.5,1208.6 742.0,1230.8 742.5,1210.4 743.0,1227.2 743.5,1210.7 744.0,1224.3 744.5,1210.7 745.0,1224.7 745.5,1210.7 746.0,1226.6 746.5,1210.2 747.0,1224.6 747.5,1211.9 748.0,1227.6 748.5,1212.7 749.0,1227.0 749.5,1204.6 750.0,1227.6 750.5,1210.0 751.0,1224.8 751.5,1211.2 752.0,1233.7 752.5,1210.8 753.0,1233.5 753.5,1207.1 754.0,1222.9 754.5,1209.3 755.0,1224.2 755.5,1210.1 756.0,1226.4 756.5,1196.1 757.0,1225.2 757.5,1209.9 758.0,1226.8 758.5,1210.5 759.0,1231.1 759.5,1210.4 760.0,1227.4 760.5,1211.5 761.0,1225.4 761.5,1210.3 762.0,1227.6 762.5,1210.2 763.0,1224.6 763.5,1211.8 764.0,1225.7 764.5,1208.3 765.0,1226.4 765.5,1211.2 766.0,1225.9 766.5,1208.8 767.0,1225.3 767.5,1208.9 768.0,1225.2 768.5,1209.9 769.0,1235.8 769.5,1210.7 770.0,1241.1 770.5,1209.2 771.0,1227.7 771.5,1210.1 772.0,1226.0 772.5,1211.1 773.0,1224.7 773.5,1211.4 774.0,1232.9 774.5,1211.9 775.0,1226.4 775.5,1210.5 776.0,1227.7 776.5,1211.1 777.0,1226.1 777.5,1209.7 778.0,1227.7 778.5,1208.5 779.0,1226.7 779.5,1210.6 780.0,1226.6 780.5,1209.1 781.0,1241.1 781.5,1209.1 782.0,1226.6 782.5,1204.7 783.0,1225.7 783.5,1207.9 784.0,1226.0 784.5,1211.1 785.0,1227.2 785.5,1210.3 786.0,1224.5 786.5,1209.6 787.0,1236.9 787.5,1210.0 788.0,1225.3 788.5,1210.6 789.0,1227.4 789.5,1211.6 790.0,1240.4 790.5,1211.2 791.0,1226.1 791.5,1210.8 792.0,1224.9 792.5,1211.7 793.0,1227.3 793.5,1209.1 794.0,1233.2 794.5,1213.0 795.0,1228.2 795.5,1208.9 796.0,1224.9 796.5,1209.5 797.0,1228.9 797.5,1198.5 798.0,1227.2 798.5,1209.1 799.0,1228.6 799.5,1212.6 800.0,1225.1 800.5,1211.9 801.0,1225.4 801.5,1198.0 802.0,1228.4 802.5,1208.2 803.0,1224.3 803.5,1210.1 804.0,1222.2 804.5,1209.4 805.0,1226.2 805.5,1210.7 806.0,1227.2 806.5,1208.0 807.0,1227.2 807.5,1207.9 808.0,1226.5 808.5,1207.7 809.0,1226.4 809.5,1208.5 810.0,1226.1 810.5,1208.7 811.0,1225.2 811.5,1207.7 812.0,1226.9 812.5,1208.9 813.0,1225.3 813.5,1193.9 814.0,1224.3 814.5,1206.0 815.0,1224.0 815.5,1205.9 816.0,1222.2 816.5,1207.4 817.0,1226.0 817.5,1206.2 818.0,1225.3 818.5,1209.2 819.0,1225.8 819.5,1208.6 820.0,1226.3 820.5,1208.7 821.0,1224.0 821.5,1208.4 822.0,1224.8 822.5,1207.3 823.0,1223.3 823.5,1207.1 824.0,1224.3 824.5,1207.2 825.0,1223.1 825.5,1207.4 826.0,1223.3 826.5,1207.5 827.0,1219.7 827.5,1205.7 828.0,1221.9 828.5,1204.9 829.0,1234.2 829.5,1195.8 830.0,1220.3 830.5,1202.1 831.0,1218.2 831.5,1203.2 832.0,1219.7 832.5,1190.3 833.0,1215.6 833.5,1200.3 834.0,1215.1 834.5,1201.2 835.0,1215.3 835.5,1201.4 836.0,1216.6 836.5,1201.3 837.0,1218.3 837.5,1199.6 838.0,1217.1 838.5,1198.7 839.0,1214.5 839.5,1199.2 840.0,1214.7 840.5,1199.9 841.0,1215.4 841.5,1200.8 842.0,1215.0 842.5,1199.7 843.0,1214.1 843.5,1199.2 844.0,1213.0 844.5,1196.8 845.0,1215.1 845.5,1198.8 846.0,1214.5 846.5,1198.1 847.0,1212.9 847.5,1198.5 848.0,1221.3 848.5,1196.2 849.0,1213.2 849.5,1198.4 850.0,1212.4 850.5,1194.8 851.0,1213.9 851.5,1197.9 852.0,1210.8 852.5,1190.3 853.0,1214.1 853.5,1196.3 854.0,1212.5 854.5,1194.7 855.0,1211.0 855.5,1194.7 856.0,1211.1 856.5,1194.7 857.0,1210.4 857.5,1187.9 858.0,1211.3 858.5,1195.3 859.0,1212.0 859.5,1195.4 860.0,1210.1 860.5,1194.9 861.0,1208.4 861.5,1192.0 862.0,1211.5 862.5,1193.1 863.0,1210.5 863.5,1192.5 864.0,1209.3 864.5,1192.4 865.0,1209.2 865.5,1193.4 866.0,1206.4 866.5,1190.6 867.0,1209.2 867.5,1192.1 868.0,1208.2 868.5,1190.9 869.0,1207.8 869.5,1184.3 870.0,1207.2 870.5,1189.9 871.0,1204.2 871.5,1190.2 872.0,1208.1 872.5,1191.3 873.0,1205.9 873.5,1190.6 874.0,1206.8 874.5,1191.4 875.0,1205.3 875.5,1188.4 876.0,1204.9 876.5,1189.9 877.0,1205.2 877.5,1188.4 878.0,1204.7 878.5,1189.3 879.0,1206.9 879.5,1186.0 880.0,1204.1 880.5,1187.7 881.0,1203.5 881.5,1174.4 882.0,1203.3 882.5,1184.8 883.0,1207.8 883.5,1178.7 884.0,1201.6 884.5,1185.6 885.0,1199.4 885.5,1180.9 886.0,1202.0 886.5,1185.4 887.0,1203.1 887.5,1183.6 888.0,1201.2 888.5,1182.2 889.0,1203.1 889.5,1182.5 890.0,1203.2 890.5,1183.1 891.0,1202.2 891.5,1180.7 892.0,1207.2 892.5,1177.8 893.0,1196.1 893.5,1178.7 894.0,1198.5 894.5,1177.1 895.0,1199.2 895.5,1179.2 896.0,1200.1 896.5,1178.9 897.0,1197.0 897.5,1180.8 898.0,1199.7 898.5,1181.5 899.0,1201.6 899.5,1178.0 900.0,1202.3 900.5,1174.1 901.0,1193.4 901.5,1173.7 902.0,1197.1 902.5,1178.4 903.0,1196.3 903.5,1177.0 904.0,1192.7 904.5,1176.1 905.0,1192.4 905.5,1171.6 906.0,1193.9 906.5,1176.5 907.0,1194.4 907.5,1175.1 908.0,1192.9 908.5,1171.9 909.0,1189.6 909.5,1173.8 910.0,1190.7 910.5,1169.7 911.0,1190.8 911.5,1170.3 912.0,1188.6 912.5,1161.0 913.0,1190.4 913.5,1169.1 914.0,1188.9 914.5,1167.8 915.0,1189.4 915.5,1158.9 916.0,1188.2 916.5,1169.1 917.0,1192.8 917.5,1167.7 918.0,1184.9 918.5,1165.3 919.0,1186.0 919.5,1164.4 920.0,1180.2 920.5,1161.0 921.0,1181.4 921.5,1163.1 922.0,1190.8 922.5,1166.7 923.0,1190.1 923.5,1167.9 924.0,1188.1 924.5,1166.4 925.0,1183.3 925.5,1164.8 926.0,1184.5 926.5,1163.0 927.0,1181.9 927.5,1166.7 928.0,1181.5 928.5,1162.3 929.0,1183.9 929.5,1165.3 930.0,1183.9 930.5,1166.1 931.0,1184.0 931.5,1166.0 932.0,1180.6 932.5,1160.9 933.0,1180.4 933.5,1160.4 934.0,1179.4 934.5,1159.0 935.0,1179.0 935.5,1162.4 936.0,1184.0 936.5,1164.4 937.0,1181.5 937.5,1158.5 938.0,1177.9 938.5,1159.1 939.0,1176.5 939.5,1156.6 940.0,1178.7 940.5,1159.1 941.0,1179.8 941.5,1159.1 942.0,1180.8 942.5,1161.9 943.0,1181.5 943.5,1148.7 944.0,1178.3 944.5,1156.8 945.0,1180.2 945.5,1153.9 946.0,1177.9 946.5,1162.2 947.0,1178.0 947.5,1158.5 948.0,1179.6 948.5,1154.8 949.0,1175.0 949.5,1157.2 950.0,1178.8 950.5,1152.5 951.0,1175.4 951.5,1154.3 952.0,1169.9 952.5,1149.2 953.0,1169.7 953.5,1147.4 954.0,1165.5 954.5,1150.5 955.0,1168.7 955.5,1146.8 956.0,1164.5 956.5,1139.7 957.0,1166.3 957.5,1143.4 958.0,1165.5 958.5,1138.5 959.0,1165.2 959.5,1144.2 960.0,1161.2 960.5,1141.8 961.0,1162.1 961.5,1142.2 962.0,1158.9 962.5,1139.0 963.0,1160.9 963.5,1139.6 964.0,1159.0 964.5,1139.3 965.0,1159.6 965.5,1136.9 966.0,1158.1 966.5,1137.7 967.0,1156.8 967.5,1134.6 968.0,1154.1 968.5,1130.0 969.0,1147.6 969.5,1130.9 970.0,1151.0 970.5,1130.2 971.0,1151.9 971.5,1128.2 972.0,1147.7 972.5,1124.9 973.0,1146.2 973.5,1114.4 974.0,1143.9 974.5,1122.9 975.0,1143.0 975.5,1120.9 976.0,1144.6 976.5,1127.1 977.0,1147.0 977.5,1124.8 978.0,1142.7 978.5,1121.9 979.0,1138.0 979.5,1120.8 980.0,1142.7 980.5,1118.3 981.0,1139.7 981.5,1118.6 982.0,1141.6 982.5,1116.5 983.0,1136.6 983.5,1113.0 984.0,1125.2 984.5,1103.7 985.0,1123.2 985.5,1101.7 986.0,1123.1 986.5,1102.4 987.0,1120.9 987.5,1103.1 988.0,1120.7 988.5,1093.3 989.0,1123.9 989.5,1100.2 990.0,1120.6 990.5,1100.6 991.0,1119.6 991.5,1100.7 992.0,1123.2 992.5,1099.9 993.0,1121.5 993.5,1096.5 994.0,1114.4 994.5,1095.2 995.0,1115.1 995.5,1094.0 996.0,1111.6 996.5,1090.5 997.0,1115.7 997.5,1096.1 998.0,1121.4 998.5,1099.2 999.0,1119.0 999.5,1094.0 1000.0,1121.8 1000.5,1103.4 1001.0,1124.3 1001.5,1099.6 1002.0,1120.9 1002.5,1100.1 1003.0,1114.5 1003.5,1086.5 1004.0,1116.6 1004.5,1096.6 1005.0,1121.3 1005.5,1097.5 1006.0,1124.0 1006.5,1103.4 1007.0,1123.2 1007.5,1105.9 1008.0,1122.0 1008.5,1103.4 1009.0,1123.5 1009.5,1101.7 1010.0,1121.7 1010.5,1102.8 1011.0,1124.9 1011.5,1106.5 1012.0,1122.7 1012.5,1093.1 1013.0,1110.3 1013.5,1087.0 1014.0,1106.2 1014.5,1084.6 1015.0,1101.5 1015.5,1077.8 1016.0,1096.8 1016.5,1075.8 1017.0,1094.6 1017.5,1075.0 1018.0,1091.9 1018.5,1072.0 1019.0,1089.9 1019.5,1068.6 1020.0,1087.0 1020.5,1065.5 1021.0,1092.8 1021.5,1063.8 1022.0,1089.8 1022.5,1067.6 1023.0,1086.9 1023.5,1062.7 1024.0,1087.2 1024.5,1061.2 1025.0,1089.1 1025.5,1061.6 1026.0,1080.1 1026.5,1059.0 1027.0,1084.4 1027.5,1063.0 1028.0,1078.9 1028.5,1057.4 1029.0,1080.5 1029.5,1056.8 1030.0,1079.7 1030.5,1056.7 1031.0,1079.5 1031.5,1051.5 1032.0,1073.7 1032.5,1039.9 1033.0,1068.0 1033.5,1048.0 1034.0,1072.9 1034.5,1050.3 1035.0,1075.1 1035.5,1053.2 1036.0,1070.8 1036.5,1040.6 1037.0,1075.0 1037.5,1050.8 1038.0,1071.3 1038.5,1050.2 1039.0,1070.1 1039.5,1045.9 1040.0,1066.1 1040.5,1044.0 1041.0,1063.1 1041.5,1042.0 1042.0,1066.2 1042.5,1044.1 1043.0,1060.8 1043.5,1029.4 1044.0,1050.5 1044.5,1027.6 1045.0,1042.6 1045.5,1020.7 1046.0,1038.7 1046.5,1017.0 1047.0,1036.5 1047.5,1015.4 1048.0,1037.9 1048.5,1009.7 1049.0,1031.3 1049.5,1007.4 1050.0,1029.1 1050.5,1008.2 1051.0,1031.1 1051.5,1004.0 1052.0,1025.4 1052.5,996.7 1053.0,1026.1 1053.5,1000.6 1054.0,1024.0 1054.5,997.4 1055.0,1024.1 1055.5,996.7 1056.0,1015.3 1056.5,997.6 1057.0,1016.2 1057.5,993.9 1058.0,1016.6 1058.5,988.9 1059.0,1015.7 1059.5,992.7 1060.0,1012.0 1060.5,977.2 1061.0,1008.5 1061.5,989.0 1062.0,1009.2 1062.5,988.7 1063.0,1006.7 1063.5,982.1 1064.0,1002.8 1064.5,984.9 1065.0,1001.6 1065.5,978.2 1066.0,1004.2 1066.5,979.9 1067.0,999.4 1067.5,978.2 1068.0,1000.6 1068.5,974.7 1069.0,994.8 1069.5,973.0 1070.0,995.7 1070.5,966.2 1071.0,988.7 1071.5,965.6 1072.0,990.7 1072.5,967.2 1073.0,1001.5 1073.5,969.9 1074.0,989.9 1074.5,967.1 1075.0,989.6 1075.5,969.4 1076.0,988.6 1076.5,963.9 1077.0,988.0 1077.5,968.4 1078.0,990.3 1078.5,966.6 1079.0,988.6 1079.5,955.0 1080.0,988.6 1080.5,964.0 1081.0,985.5 1081.5,956.5 1082.0,983.2 1082.5,953.7 1083.0,982.9 1083.5,945.0 1084.0,973.3 1084.5,954.3 1085.0,979.6 1085.5,953.1 1086.0,979.2 1086.5,952.1 1087.0,974.9 1087.5,944.6 1088.0,968.2 1088.5,948.4 1089.0,967.4 1089.5,939.8 1090.0,968.5 1090.5,947.4 1091.0,973.9 1091.5,949.0 1092.0,973.1 1092.5,951.2 1093.0,968.6 1093.5,943.1 1094.0,967.5 1094.5,938.3 1095.0,959.9 1095.5,937.6 1096.0,960.6 1096.5,935.4 1097.0,962.0 1097.5,922.8 1098.0,948.4 1098.5,924.2 1099.0,950.2 1099.5,919.8 1100.0,943.9 1100.5,916.2 1101.0,952.8 1101.5,922.5 1102.0,947.7 1102.5,923.1 1103.0,943.9 1103.5,912.5 1104.0,938.2 1104.5,910.9 1105.0,935.9 1105.5,899.7 1106.0,934.7 1106.5,909.2 1107.0,935.4 1107.5,911.2 1108.0,930.2 1108.5,901.4 1109.0,923.5 1109.5,897.1 1110.0,921.7 1110.5,895.2 1111.0,912.1 1111.5,886.2 1112.0,911.6 1112.5,888.3 1113.0,915.8 1113.5,888.5 1114.0,911.0 1114.5,879.9 1115.0,906.8 1115.5,875.3 1116.0,904.9 1116.5,880.8 1117.0,907.5 1117.5,880.5 1118.0,900.8 1118.5,874.7 1119.0,901.7 1119.5,874.9 1120.0,894.8 1120.5,871.9 1121.0,889.7 1121.5,861.9 1122.0,889.1 1122.5,862.1 1123.0,888.8 1123.5,862.6 1124.0,888.0 1124.5,861.3 1125.0,893.0 1125.5,868.7 1126.0,887.0 1126.5,858.2 1127.0,879.7 1127.5,853.0 1128.0,875.9 1128.5,845.3 1129.0,870.0 1129.5,851.1 1130.0,878.4 1130.5,848.1 1131.0,878.5 1131.5,847.2 1132.0,879.0 1132.5,846.0 1133.0,874.2 1133.5,843.5 1134.0,866.7 1134.5,839.6 1135.0,866.0 1135.5,837.7 1136.0,861.4 1136.5,826.4 1137.0,869.7 1137.5,828.8 1138.0,857.9 1138.5,830.3 1139.0,856.4 1139.5,828.9 1140.0,854.0 1140.5,825.7 1141.0,855.5 1141.5,826.6 1142.0,849.6 1142.5,823.7 1143.0,846.7 1143.5,816.1 1144.0,846.8 1144.5,816.9 1145.0,844.7 1145.5,816.0 1146.0,846.8 1146.5,808.3 1147.0,838.8 1147.5,812.9 1148.0,834.7 1148.5,811.8 1149.0,835.9 1149.5,802.0 1150.0,836.5 1150.5,807.4 1151.0,832.6 1151.5,804.0 1152.0,832.5 1152.5,796.9 1153.0,829.9 1153.5,803.1 1154.0,824.2 1154.5,795.5 1155.0,814.2 1155.5,789.8 1156.0,817.6 1156.5,790.9 1157.0,819.4 1157.5,789.4 1158.0,815.0 1158.5,779.7 1159.0,810.6 1159.5,785.2 1160.0,815.7 1160.5,787.1 1161.0,809.0 1161.5,780.7 1162.0,809.9 1162.5,778.1 1163.0,801.7 1163.5,776.9 1164.0,803.5 1164.5,773.2 1165.0,798.1 1165.5,767.9 1166.0,786.5 1166.5,760.8 1167.0,789.6 1167.5,766.9 1168.0,792.8 1168.5,760.4 1169.0,789.4 1169.5,746.7 1170.0,791.6 1170.5,760.0 1171.0,796.6 1171.5,763.3 1172.0,781.2 1172.5,749.4 1173.0,774.1 1173.5,746.6 1174.0,774.2 1174.5,745.8 1175.0,771.1 1175.5,743.5 1176.0,773.7 1176.5,748.6 1177.0,774.4 1177.5,742.0 1178.0,761.6 1178.5,734.8 1179.0,765.6 1179.5,735.3 1180.0,757.7 1180.5,724.0 1181.0,755.2 1181.5,730.0 1182.0,760.2 1182.5,729.8 1183.0,760.6 1183.5,725.5 1184.0,753.4 1184.5,725.4 1185.0,755.5 1185.5,718.1 1186.0,746.7 1186.5,715.1 1187.0,744.8 1187.5,718.0 1188.0,742.5 1188.5,711.9 1189.0,751.7 1189.5,711.5 1190.0,745.5 1190.5,708.6 1191.0,737.7 1191.5,709.0 1192.0,730.7 1192.5,706.1 1193.0,744.2 1193.5,699.0 1194.0,725.6 1194.5,694.0 1195.0,723.4 1195.5,697.5 1196.0,719.2 1196.5,692.3 1197.0,716.4 1197.5,681.1 1198.0,720.3 1198.5,684.6 1199.0,716.7 1199.5,684.8 1200.0,719.8 1200.5,686.4 1201.0,711.9 1201.5,683.7 1202.0,711.1 1202.5,686.2 1203.0,713.0 1203.5,687.4 1204.0,717.2 1204.5,679.3 1205.0,710.4 1205.5,679.0 1206.0,707.2 1206.5,674.9 1207.0,706.1 1207.5,676.6 1208.0,706.5 1208.5,676.6 1209.0,709.6 1209.5,674.5 1210.0,707.4 1210.5,680.2 1211.0,708.1 1211.5,672.5 1212.0,702.6 1212.5,668.6 1213.0,696.4 1213.5,665.9 1214.0,693.9 1214.5,650.8 1215.0,690.2 1215.5,661.9 1216.0,685.8 1216.5,659.4 1217.0,689.8 1217.5,659.5 1218.0,687.4 1218.5,656.0 1219.0,689.7 1219.5,658.3 1220.0,695.2 1220.5,661.3 1221.0,697.4 1221.5,665.6 1222.0,691.9 1222.5,666.5 1223.0,699.3 1223.5,664.7 1224.0,700.3 1224.5,658.6 1225.0,691.5 1225.5,654.5 1226.0,690.5 1226.5,655.9 1227.0,685.9 1227.5,651.1 1228.0,684.0 1228.5,653.3 1229.0,685.3 1229.5,652.2 1230.0,685.0 1230.5,651.2 1231.0,687.4 1231.5,651.7 1232.0,688.3 1232.5,655.0 1233.0,686.7 1233.5,660.1 1234.0,702.3 1234.5,637.5 1235.0,683.2 1235.5,649.0 1236.0,691.5 1236.5,657.4 1237.0,689.0 1237.5,658.5 1238.0,689.7 1238.5,653.1 1239.0,685.3 1239.5,650.8 1240.0,681.2 1240.5,650.3 1241.0,677.4 1241.5,642.3 1242.0,685.6 1242.5,648.6 1243.0,678.9 1243.5,632.6 1244.0,677.7 1244.5,640.6 1245.0,675.6 1245.5,644.6 1246.0,677.5 1246.5,644.5 1247.0,678.7 1247.5,646.5 1248.0,677.3 1248.5,641.9 1249.0,677.9 1249.5,640.4 1250.0,679.7 1250.5,642.5 1251.0,686.5 1251.5,652.0 1252.0,683.1 1252.5,643.0 1253.0,685.6 1253.5,650.5 1254.0,681.5 1254.5,646.4 1255.0,677.0 1255.5,649.7 1256.0,681.5 1256.5,648.1 1257.0,684.4 1257.5,656.7 1258.0,688.1 1258.5,653.5 1259.0,691.1 1259.5,657.6 1260.0,688.3 1260.5,651.4 1261.0,685.3 1261.5,650.3 1262.0,685.5 1262.5,655.6 1263.0,694.9 1263.5,655.3 1264.0,693.7 1264.5,657.3 1265.0,685.3 1265.5,649.4 1266.0,687.3 1266.5,645.9 1267.0,680.4 1267.5,652.5 1268.0,686.2 1268.5,649.1 1269.0,687.2 1269.5,649.7 1270.0,688.1 1270.5,648.9 1271.0,685.8 1271.5,645.7 1272.0,691.7 1272.5,646.3 1273.0,685.6 1273.5,644.7 1274.0,685.9 1274.5,636.7 1275.0,674.0 1275.5,634.4 1276.0,671.7 1276.5,636.3 1277.0,671.7 1277.5,631.6 1278.0,663.4 1278.5,626.6 1279.0,671.3 1279.5,626.7 1280.0,672.8 1280.5,628.6 1281.0,669.8 1281.5,607.9 1282.0,660.7 1282.5,626.7 1283.0,672.8 1283.5,624.0 1284.0,671.9 1284.5,625.3 1285.0,657.9 1285.5,619.4 1286.0,666.3 1286.5,623.3 1287.0,664.6 1287.5,621.4 1288.0,659.8 1288.5,627.1 1289.0,662.7 1289.5,624.0 1290.0,665.8 1290.5,619.2 1291.0,657.4 1291.5,621.5 1292.0,659.3 1292.5,615.4 1293.0,665.1 1293.5,617.1 1294.0,666.2 1294.5,624.6 1295.0,666.0 1295.5,610.0 1296.0,661.9 1296.5,624.6 1297.0,660.2 1297.5,629.5 1298.0,668.8 1298.5,630.8 1299.0,665.2 1299.5,610.1 1300.0,650.0 1300.5,612.1 1301.0,655.8 1301.5,621.7 1302.0,664.2 1302.5,609.2 1303.0,657.2 1303.5,615.1 1304.0,650.7 1304.5,612.6 1305.0,659.7 1305.5,610.8 1306.0,652.2 1306.5,600.4 1307.0,641.2 1307.5,601.2 1308.0,651.7 1308.5,605.2 1309.0,646.1 1309.5,595.8 1310.0,633.9 1310.5,594.4 1311.0,635.5 1311.5,591.8 1312.0,636.4 1312.5,597.5 1313.0,640.1 1313.5,593.7 1314.0,637.0 1314.5,598.2 1315.0,636.2 1315.5,596.0 1316.0,629.9 1316.5,590.9 1317.0,624.4 1317.5,584.5 1318.0,629.6 1318.5,580.2 1319.0,625.5 1319.5,589.6 1320.0,630.5 1320.5,584.3 1321.0,622.6 1321.5,582.8 1322.0,624.0 1322.5,585.4 1323.0,628.7 1323.5,578.8 1324.0,629.0 1324.5,587.5 1325.0,620.3 1325.5,581.4 1326.0,618.3 1326.5,582.1 1327.0,625.6 1327.5,582.4 1328.0,617.9 1328.5,573.6 1329.0,616.3 1329.5,573.8 1330.0,618.4 1330.5,576.2 1331.0,623.3 1331.5,579.4 1332.0,623.2 1332.5,574.5 1333.0,619.3 1333.5,578.5 1334.0,632.9 1334.5,581.6 1335.0,633.1 1335.5,582.4 1336.0,623.1 1336.5,571.1 1337.0,617.5 1337.5,573.5 1338.0,618.7 1338.5,568.8 1339.0,609.6 1339.5,570.1 1340.0,613.8 1340.5,575.0 1341.0,608.5 1341.5,559.9 1342.0,602.5 1342.5,564.6 1343.0,604.5 1343.5,543.2 1344.0,591.6 1344.5,548.0 1345.0,593.3 1345.5,552.8 1346.0,595.7 1346.5,546.7 1347.0,594.8 1347.5,536.0 1348.0,598.9 1348.5,543.2 1349.0,583.7 1349.5,544.1 1350.0,586.4 1350.5,548.4 1351.0,595.3 1351.5,549.8 1352.0,594.8 1352.5,555.7 1353.0,592.9 1353.5,550.6 1354.0,598.8 1354.5,549.0 1355.0,593.9 1355.5,550.7 1356.0,598.2 1356.5,549.8 1357.0,598.1 1357.5,558.2 1358.0,606.0 1358.5,554.8 1359.0,599.9 1359.5,549.4 1360.0,598.2 1360.5,550.0 1361.0,599.1 1361.5,557.4 1362.0,606.1 1362.5,562.6 1363.0,604.7 1363.5,562.2 1364.0,598.7 1364.5,544.5 1365.0,603.2 1365.5,552.8 1366.0,600.2 1366.5,545.2 1367.0,594.1 1367.5,547.1 1368.0,595.6 1368.5,551.5 1369.0,592.5 1369.5,543.2 1370.0,593.5 1370.5,545.1 1371.0,587.9 1371.5,548.3 1372.0,582.5 1372.5,544.7 1373.0,588.1 1373.5,544.1 1374.0,588.9 1374.5,549.4 1375.0,587.3 1375.5,542.9 1376.0,584.4 1376.5,532.6 1377.0,569.5 1377.5,521.6 1378.0,566.4 1378.5,525.9 1379.0,582.5 1379.5,535.0 1380.0,581.4 1380.5,528.2 1381.0,584.9 1381.5,536.2 1382.0,578.8 1382.5,530.3 1383.0,574.5 1383.5,541.0 1384.0,580.2 1384.5,520.8 1385.0,569.0 1385.5,524.2 1386.0,568.3 1386.5,527.1 1387.0,577.7 1387.5,530.2 1388.0,575.8 1388.5,525.9 1389.0,570.0 1389.5,528.0 1390.0,573.5 1390.5,526.7 1391.0,577.5 1391.5,533.7 1392.0,579.6 1392.5,532.7 1393.0,566.1 1393.5,527.7 1394.0,573.8 1394.5,530.2 1395.0,570.1 1395.5,513.1 1396.0,565.9 1396.5,528.4 1397.0,580.9 1397.5,529.3 1398.0,571.1 1398.5,517.4 1399.0,560.9 1399.5,508.6 1400.0,558.7 1400.5,517.4 1401.0,562.3 1401.5,508.8 1402.0,567.9 1402.5,519.8 1403.0,570.6 1403.5,528.0 1404.0,566.1 1404.5,517.2 1405.0,560.5 1405.5,518.2 1406.0,560.0 1406.5,516.7 1407.0,558.8 1407.5,513.2 1408.0,557.1 1408.5,516.6 1409.0,565.9 1409.5,513.9 1410.0,562.6 1410.5,519.8 1411.0,561.8 1411.5,509.3 1412.0,545.9 1412.5,509.9 1413.0,552.7 1413.5,510.2 1414.0,560.0 1414.5,514.0 1415.0,553.3 1415.5,511.0 1416.0,563.5 1416.5,519.3 1417.0,557.0 1417.5,505.3 1418.0,554.8 1418.5,510.5 1419.0,551.5 1419.5,510.1 1420.0,564.2 1420.5,509.1 1421.0,558.9 1421.5,511.1 1422.0,560.6 1422.5,512.8 1423.0,555.9 1423.5,505.3 1424.0,550.8 1424.5,504.6 1425.0,548.4 1425.5,502.3 1426.0,540.3 1426.5,492.0 1427.0,546.8 1427.5,496.4 1428.0,551.9 1428.5,495.6 1429.0,549.5 1429.5,497.3 1430.0,543.1 1430.5,498.0 1431.0,540.7 1431.5,493.7 1432.0,546.8 1432.5,503.1 1433.0,542.3 1433.5,494.6 1434.0,539.2 1434.5,496.3 1435.0,537.4 1435.5,500.2 1436.0,543.0 1436.5,499.7 1437.0,541.1 1437.5,503.6 1438.0,542.3 1438.5,500.0 1439.0,543.6 1439.5,494.5 1440.0,545.4 1440.5,494.0 1441.0,543.2 1441.5,495.3 1442.0,542.4 1442.5,498.6 1443.0,535.9 1443.5,493.8 1444.0,541.9 1444.5,493.6 1445.0,535.7 1445.5,494.0 1446.0,535.8 1446.5,493.9 1447.0,533.5 1447.5,487.1 1448.0,537.6 1448.5,491.0 1449.0,531.9 1449.5,493.3 1450.0,542.4 1450.5,491.2 1451.0,524.8 1451.5,484.4 1452.0,542.1 1452.5,488.9 1453.0,538.0 1453.5,494.5 1454.0,532.0 1454.5,499.4 1455.0,542.8 1455.5,488.3 1456.0,540.4 1456.5,482.5 1457.0,528.0 1457.5,485.0 1458.0,534.7 1458.5,487.9 1459.0,535.7 1459.5,483.8 1460.0,529.9 1460.5,482.0 1461.0,520.3 1461.5,480.4 1462.0,517.8 1462.5,478.4 1463.0,518.9 1463.5,480.1 1464.0,518.1 1464.5,480.4 1465.0,529.2 1465.5,482.6 1466.0,528.4 1466.5,477.8 1467.0,519.0 1467.5,479.9 1468.0,517.2 1468.5,475.2 1469.0,519.4 1469.5,488.4 1470.0,526.8 1470.5,477.9 1471.0,517.0 1471.5,480.5 1472.0,520.8 1472.5,479.5 1473.0,528.2 1473.5,479.3 1474.0,539.5 1474.5,483.6 1475.0,524.5 1475.5,485.2 1476.0,520.4 1476.5,478.0 1477.0,520.5 1477.5,473.6 1478.0,513.1 1478.5,467.2 1479.0,506.6 1479.5,460.5 1480.0,510.6 1480.5,462.3 1481.0,507.1 1481.5,465.9 1482.0,509.8 1482.5,462.0 1483.0,510.3 1483.5,466.7 1484.0,515.2 1484.5,464.8 1485.0,511.3 1485.5,465.9 1486.0,510.8 1486.5,465.9 1487.0,512.2 1487.5,471.8 1488.0,516.6 1488.5,467.8 1489.0,511.4 1489.5,467.2 1490.0,512.3 1490.5,460.3 1491.0,513.2 1491.5,460.1 1492.0,505.9 1492.5,458.6 1493.0,517.2 1493.5,467.6 1494.0,511.0 1494.5,459.2 1495.0,502.5 1495.5,467.3 1496.0,510.3 1496.5,466.9 1497.0,514.8 1497.5,473.0 1498.0,514.8 1498.5,466.4 1499.0,514.9 1499.5,463.7 1500.0,511.8 1500.5,458.9 1501.0,497.3 1501.5,458.3 1502.0,510.3 1502.5,466.1 1503.0,505.8 1503.5,462.7 1504.0,501.2 1504.5,459.3 1505.0,502.2 1505.5,451.8 1506.0,498.0 1506.5,445.7 1507.0,489.5 1507.5,453.5 1508.0,496.7 1508.5,448.6 1509.0,498.3 1509.5,449.1 1510.0,501.5 1510.5,458.7 1511.0,502.6 1511.5,464.0 1512.0,502.7 1512.5,458.3 1513.0,490.6 1513.5,456.3 1514.0,492.1 1514.5,450.8 1515.0,494.7 1515.5,449.8 1516.0,505.6 1516.5,449.6 1517.0,501.3 1517.5,460.2 1518.0,491.0 1518.5,456.1 1519.0,505.3 1519.5,456.3 1520.0,506.1 1520.5,460.7 1521.0,495.2 1521.5,449.0 1522.0,495.0 1522.5,453.5 1523.0,497.1 1523.5,462.4 1524.0,505.3 1524.5,459.3 1525.0,497.3 1525.5,456.6 1526.0,500.7 1526.5,453.0 1527.0,488.5 1527.5,432.6 1528.0,482.0 1528.5,439.1 1529.0,488.8 1529.5,445.8 1530.0,496.9 1530.5,430.2 1531.0,482.2 1531.5,444.8 1532.0,489.2 1532.5,450.6 1533.0,497.9 1533.5,455.8 1534.0,501.7 1534.5,452.8 1535.0,491.8 1535.5,448.3 1536.0,499.7 1536.5,456.1 1537.0,487.2 1537.5,446.8 1538.0,500.3 1538.5,447.5 1539.0,494.9 1539.5,451.0 1540.0,489.9 1540.5,447.4 1541.0,498.5 1541.5,456.8 1542.0,503.1 1542.5,456.0 1543.0,497.8 1543.5,455.1 1544.0,491.5 1544.5,444.6 1545.0,497.3 1545.5,445.8 1546.0,507.8 1546.5,450.5 1547.0,493.3 1547.5,440.1 1548.0,490.1 1548.5,441.5 1549.0,487.9 1549.5,443.6 1550.0,482.6 1550.5,441.3 1551.0,488.3 1551.5,457.7 1552.0,492.4 1552.5,447.9 1553.0,489.3 1553.5,445.3 1554.0,485.1 1554.5,447.7 1555.0,486.6 1555.5,445.1 1556.0,490.5 1556.5,431.5 1557.0,478.9 1557.5,434.5 1558.0,481.5 1558.5,440.1 1559.0,475.7 1559.5,436.4 1560.0,469.4 1560.5,433.4 1561.0,479.6 1561.5,433.1 1562.0,478.2 1562.5,435.0 1563.0,473.8 1563.5,428.1 1564.0,461.2 1564.5,414.8 1565.0,460.5 1565.5,420.2 1566.0,466.0 1566.5,420.0 1567.0,464.5 1567.5,423.1 1568.0,463.0 1568.5,410.9 1569.0,454.0 1569.5,416.9 1570.0,466.5 1570.5,428.8 1571.0,462.9 1571.5,424.7 1572.0,461.5 1572.5,425.8 1573.0,458.9 1573.5,413.8 1574.0,458.5 1574.5,412.9 1575.0,461.7 1575.5,422.8 1576.0,463.1 1576.5,419.6 1577.0,454.7 1577.5,425.5 1578.0,467.8 1578.5,413.8 1579.0,460.6 1579.5,417.4 1580.0,461.3 1580.5,408.9 1581.0,454.6 1581.5,412.2 1582.0,455.4 1582.5,407.0 1583.0,451.1 1583.5,396.1 1584.0,449.0 1584.5,414.3 1585.0,460.9 1585.5,409.7 1586.0,458.8 1586.5,420.8 1587.0,465.6 1587.5,412.9 1588.0,458.7 1588.5,416.3 1589.0,459.1 1589.5,416.4 1590.0,460.5 1590.5,403.4 1591.0,444.9 1591.5,408.6 1592.0,441.5 1592.5,389.2 1593.0,444.0 1593.5,398.1 1594.0,443.2 1594.5,405.7 1595.0,447.1 1595.5,408.1 1596.0,458.3 1596.5,408.0 1597.0,455.8 1597.5,404.5 1598.0,443.9 1598.5,402.8 1599.0,449.4 1599.5,396.4 1600.0,439.8 1600.5,390.5 1601.0,443.4 1601.5,403.0 1602.0,444.0 1602.5,410.9 1603.0,443.8 1603.5,402.6 1604.0,448.1 1604.5,391.1 1605.0,434.1 1605.5,395.8 1606.0,440.4 1606.5,404.0 1607.0,453.3 1607.5,400.6 1608.0,449.9 1608.5,406.0 1609.0,458.3 1609.5,417.3 1610.0,455.4 1610.5,416.7 1611.0,456.0 1611.5,414.5 1612.0,449.4 1612.5,402.1 1613.0,445.0 1613.5,394.2 1614.0,449.0 1614.5,405.5 1615.0,451.0 1615.5,408.3 1616.0,451.7 1616.5,401.9 1617.0,447.6 1617.5,406.9 1618.0,447.5 1618.5,403.1 1619.0,447.0 1619.5,397.0 1620.0,437.8 1620.5,401.3 1621.0,445.8 1621.5,401.9 1622.0,448.5 1622.5,403.2 1623.0,450.6 1623.5,399.8 1624.0,442.3 1624.5,406.5 1625.0,446.0 1625.5,396.8 1626.0,447.2 1626.5,403.1 1627.0,444.1 1627.5,401.1 1628.0,450.8 1628.5,403.6 1629.0,462.3 1629.5,408.6 1630.0,448.0 1630.5,410.2 1631.0,443.9 1631.5,406.2 1632.0,449.2 1632.5,412.9 1633.0,451.3 1633.5,403.4 1634.0,448.4 1634.5,406.1 1635.0,441.9 1635.5,394.2 1636.0,438.1 1636.5,397.7 1637.0,436.0 1637.5,386.0 1638.0,438.4 1638.5,396.5 1639.0,433.8 1639.5,397.1 1640.0,445.0 1640.5,402.1 1641.0,436.2 1641.5,395.5 1642.0,441.7 1642.5,397.7 1643.0,448.1 1643.5,405.7 1644.0,443.9 1644.5,396.7 1645.0,441.5 1645.5,394.4 1646.0,443.9 1646.5,380.8 1647.0,436.1 1647.5,403.6 1648.0,437.6 1648.5,404.6 1649.0,438.6 1649.5,395.1 1650.0,443.9 1650.5,397.0 1651.0,439.5 1651.5,394.2 1652.0,438.0 1652.5,390.7 1653.0,436.1 1653.5,383.6 1654.0,434.9 1654.5,390.0 1655.0,438.8 1655.5,386.5 1656.0,431.7 1656.5,391.9 1657.0,441.2 1657.5,392.4 1658.0,432.3 1658.5,379.9 1659.0,420.2 1659.5,376.8 1660.0,420.9 1660.5,386.2 1661.0,428.3 1661.5,381.0 1662.0,428.2 1662.5,379.8 1663.0,426.4 1663.5,378.9 1664.0,423.3 1664.5,373.6 1665.0,426.3 1665.5,385.6 1666.0,431.0 1666.5,387.1 1667.0,426.0 1667.5,383.1 1668.0,431.0 1668.5,380.1 1669.0,424.2 1669.5,383.2 1670.0,425.8 1670.5,375.3 1671.0,421.9 1671.5,372.2 1672.0,418.4 1672.5,378.2 1673.0,430.1 1673.5,374.8 1674.0,428.7 1674.5,388.9 1675.0,433.1 1675.5,377.3 1676.0,433.7 1676.5,380.0 1677.0,420.1 1677.5,387.2 1678.0,428.1 1678.5,380.9 1679.0,431.4 1679.5,386.3 1680.0,436.2 1680.5,382.2 1681.0,430.6 1681.5,382.8 1682.0,426.3 1682.5,374.4 1683.0,418.5 1683.5,378.9 1684.0,422.5 1684.5,371.5 1685.0,427.6 1685.5,378.3 1686.0,422.3 1686.5,378.4 1687.0,427.7 1687.5,377.8 1688.0,420.9 1688.5,367.9 1689.0,414.1 1689.5,366.8 1690.0,417.7 1690.5,374.3 1691.0,411.1 1691.5,374.3 1692.0,416.9 1692.5,366.7 1693.0,404.6 1693.5,363.3 1694.0,421.2 1694.5,360.6 1695.0,415.1 1695.5,375.7 1696.0,417.0 1696.5,367.7 1697.0,413.5 1697.5,373.8 1698.0,414.6 1698.5,358.1 1699.0,414.9 1699.5,371.0 1700.0,415.9 1700.5,372.4 1701.0,418.2 1701.5,362.8 1702.0,404.5 1702.5,362.7 1703.0,401.8 1703.5,360.1 1704.0,403.8 1704.5,361.6 1705.0,396.3 1705.5,364.7 1706.0,408.4 1706.5,361.9 1707.0,409.5 1707.5,369.8 1708.0,415.0 1708.5,363.9 1709.0,405.8 1709.5,350.5 1710.0,406.4 1710.5,369.9 1711.0,419.7 1711.5,380.6 1712.0,417.1 1712.5,369.9 1713.0,416.0 1713.5,368.3 1714.0,414.3 1714.5,362.9 1715.0,413.5 1715.5,369.1 1716.0,410.3 1716.5,372.7 1717.0,413.0 1717.5,369.3 1718.0,410.6 1718.5,369.1 1719.0,418.8 1719.5,370.4 1720.0,410.0 1720.5,363.7 1721.0,408.6 1721.5,367.3 1722.0,406.8 1722.5,369.6 1723.0,411.1 1723.5,367.4 1724.0,407.6 1724.5,372.0 1725.0,413.2 1725.5,376.8 1726.0,409.5 1726.5,371.4 1727.0,410.6 1727.5,361.3 1728.0,399.1 1728.5,353.6 1729.0,400.5 1729.5,357.4 1730.0,407.9 1730.5,356.1 1731.0,401.3 1731.5,359.4 1732.0,414.5 1732.5,362.2 1733.0,417.7 1733.5,358.0 1734.0,406.5 1734.5,366.3 1735.0,400.9 1735.5,361.3 1736.0,401.0 1736.5,360.1 1737.0,405.4 1737.5,354.4 1738.0,391.1 1738.5,355.0 1739.0,391.7 1739.5,351.3 1740.0,388.3 1740.5,347.0 1741.0,394.0 1741.5,349.5 1742.0,395.9 1742.5,352.2 1743.0,404.1 1743.5,363.1 1744.0,409.0 1744.5,365.6 1745.0,403.2 1745.5,346.6 1746.0,396.2 1746.5,359.3 1747.0,407.3 1747.5,362.9 1748.0,408.4 1748.5,361.2 1749.0,402.0 1749.5,363.5 1750.0,409.8 1750.5,361.3 1751.0,402.0 1751.5,357.6 1752.0,409.1 1752.5,368.0 1753.0,410.8 1753.5,361.8 1754.0,413.0 1754.5,381.0 1755.0,416.8 1755.5,369.7 1756.0,412.1 1756.5,373.1 1757.0,409.8 1757.5,367.0 1758.0,410.2 1758.5,362.9 1759.0,414.5 1759.5,365.5 1760.0,403.8 1760.5,363.7 1761.0,403.8 1761.5,355.3 1762.0,406.6 1762.5,362.4 1763.0,407.1 1763.5,364.6 1764.0,403.8 1764.5,361.6 1765.0,410.2 1765.5,364.6 1766.0,406.6 1766.5,364.5 1767.0,404.5 1767.5,360.5 1768.0,405.9 1768.5,362.1 1769.0,407.8 1769.5,370.6 1770.0,412.5 1770.5,360.9 1771.0,401.1 1771.5,358.4 1772.0,402.4 1772.5,365.7 1773.0,402.8 1773.5,357.3 1774.0,408.0 1774.5,361.0 1775.0,411.0 1775.5,361.7 1776.0,408.7 1776.5,355.2 1777.0,406.6 1777.5,365.5 1778.0,403.7 1778.5,357.1 1779.0,401.3 1779.5,361.0 1780.0,407.6 1780.5,363.6 1781.0,407.0 1781.5,347.1 1782.0,403.5 1782.5,363.8 1783.0,403.6 1783.5,360.4 1784.0,406.1 1784.5,358.0 1785.0,397.8 1785.5,353.5 1786.0,402.0 1786.5,360.6 1787.0,397.4 1787.5,351.7 1788.0,394.0 1788.5,348.0 1789.0,394.4 1789.5,353.6 1790.0,402.2 1790.5,355.9 1791.0,397.1 1791.5,347.6 1792.0,387.5 1792.5,344.4 1793.0,392.2 1793.5,342.9 1794.0,396.8 1794.5,355.2 1795.0,398.4 1795.5,350.3 1796.0,393.4 1796.5,350.0 1797.0,393.2 1797.5,357.8 1798.0,395.4 1798.5,355.9 1799.0,396.3 1799.5,357.0 1800.0,395.8 1800.5,345.2 1801.0,389.7 1801.5,351.1 1802.0,387.7 1802.5,345.5 1803.0,395.4 1803.5,345.2 1804.0,385.1 1804.5,338.6 1805.0,383.9 1805.5,344.4 1806.0,394.4 1806.5,348.2 1807.0,393.1 1807.5,345.5 1808.0,392.0 1808.5,355.7 1809.0,405.2 1809.5,354.9 1810.0,398.2 1810.5,352.9 1811.0,394.1 1811.5,345.4 1812.0,384.1 1812.5,344.8 1813.0,386.8 1813.5,347.9 1814.0,393.2 1814.5,352.5 1815.0,400.8 1815.5,352.1 1816.0,393.7 1816.5,352.0 1817.0,395.2 1817.5,354.1 1818.0,389.1 1818.5,351.9 1819.0,391.6 1819.5,342.7 1820.0,387.0 1820.5,346.7 1821.0,391.4 1821.5,350.3 1822.0,384.0 1822.5,340.5 1823.0,389.3 1823.5,350.3 1824.0,394.4 1824.5,348.7 1825.0,396.8 1825.5,354.0 1826.0,397.8 1826.5,349.8 1827.0,392.1 1827.5,349.2 1828.0,392.7 1828.5,340.5 1829.0,388.6 1829.5,336.3 1830.0,388.4 1830.5,351.8 1831.0,387.8 1831.5,347.0 1832.0,386.8 1832.5,345.0 1833.0,379.4 1833.5,336.5 1834.0,385.1 1834.5,338.9 1835.0,388.1 1835.5,338.2 1836.0,381.1 1836.5,333.2 1837.0,380.4 1837.5,338.0 1838.0,376.5 1838.5,335.5 1839.0,379.7 1839.5,337.6 1840.0,377.6 1840.5,338.3 1841.0,382.6 1841.5,337.0 1842.0,385.8 1842.5,335.9 1843.0,384.1 1843.5,329.9 1844.0,380.3 1844.5,340.3 1845.0,395.7 1845.5,342.5 1846.0,392.0 1846.5,343.2 1847.0,392.4 1847.5,341.3 1848.0,386.1 1848.5,344.4 1849.0,390.2 1849.5,337.2 1850.0,374.7 1850.5,341.9 1851.0,385.0 1851.5,335.0 1852.0,373.6 1852.5,334.3 1853.0,386.4 1853.5,343.0 1854.0,379.0 1854.5,335.4 1855.0,379.4 1855.5,344.2 1856.0,385.7 1856.5,342.1 1857.0,383.3 1857.5,331.3 1858.0,383.1 1858.5,348.6 1859.0,391.5 1859.5,341.6 1860.0,391.5 1860.5,331.0 1861.0,385.4 1861.5,337.7 1862.0,385.0 1862.5,328.7 1863.0,368.1 1863.5,338.5 1864.0,379.7 1864.5,341.6 1865.0,386.6 1865.5,340.6 1866.0,380.0 1866.5,341.5 1867.0,391.0 1867.5,347.1 1868.0,379.4 1868.5,332.6 1869.0,389.9 1869.5,333.7 1870.0,381.1 1870.5,332.2 1871.0,376.9 1871.5,340.7 1872.0,379.7 1872.5,329.3 1873.0,371.2 1873.5,329.7 1874.0,377.4 1874.5,340.9 1875.0,376.9 1875.5,341.2 1876.0,388.2 1876.5,344.9 1877.0,381.9 1877.5,336.3 1878.0,380.0 1878.5,334.2 1879.0,379.4 1879.5,330.4 1880.0,373.1 1880.5,336.0 1881.0,376.9 1881.5,340.1 1882.0,388.5 1882.5,337.3 1883.0,383.0 1883.5,330.1 1884.0,373.6 1884.5,333.0 1885.0,383.1 1885.5,333.5 1886.0,374.1 1886.5,324.7 1887.0,372.2 1887.5,327.0 1888.0,369.8 1888.5,321.3 1889.0,372.3 1889.5,328.0 1890.0,379.0 1890.5,331.8 1891.0,379.9 1891.5,335.8 1892.0,369.9 1892.5,327.5 1893.0,374.4 1893.5,331.5 1894.0,374.6 1894.5,320.0 1895.0,372.0 1895.5,328.1 1896.0,379.7 1896.5,339.9 1897.0,381.9 1897.5,331.3 1898.0,382.8 1898.5,334.9 1899.0,377.7 1899.5,337.8 1900.0,380.6 1900.5,325.0 1901.0,375.0 1901.5,330.6 1902.0,373.9 1902.5,322.3 1903.0,378.7 1903.5,328.7 1904.0,376.5 1904.5,333.4 1905.0,372.1 1905.5,327.6 1906.0,364.5 1906.5,321.0 1907.0,370.6 1907.5,331.0 1908.0,377.3 1908.5,334.8 1909.0,378.4 1909.5,335.0 1910.0,380.9 1910.5,335.3 1911.0,375.3 1911.5,325.2 1912.0,365.0 1912.5,327.2 1913.0,371.1 1913.5,332.7 1914.0,373.1 1914.5,338.9 1915.0,385.6 1915.5,333.0 1916.0,372.3 1916.5,324.1 1917.0,371.5 1917.5,330.3 1918.0,371.5 1918.5,332.0 1919.0,373.5 1919.5,325.4 1920.0,360.9 1920.5,317.6 1921.0,360.1 1921.5,324.6 1922.0,370.2 1922.5,332.0 1923.0,380.6 1923.5,343.7 1924.0,387.8 1924.5,340.4 1925.0,378.0 1925.5,324.5 1926.0,367.4 1926.5,323.6 1927.0,380.8 1927.5,325.1 1928.0,368.6 1928.5,325.4 1929.0,374.0 1929.5,323.9 1930.0,368.1 1930.5,329.3 1931.0,385.3 1931.5,333.7 1932.0,377.7 1932.5,336.3 1933.0,371.8 1933.5,321.8 1934.0,366.4 1934.5,315.8 1935.0,359.6 1935.5,323.5 1936.0,366.6 1936.5,320.7 1937.0,373.3 1937.5,321.8 1938.0,371.5 1938.5,331.4 1939.0,367.2 1939.5,325.6 1940.0,382.3 1940.5,327.8 1941.0,374.3 1941.5,326.7 1942.0,374.2 1942.5,326.0 1943.0,366.8 1943.5,324.0 1944.0,367.1 1944.5,320.0 1945.0,371.8 1945.5,334.5 1946.0,383.1 1946.5,316.6 1947.0,361.7 1947.5,320.4 1948.0,372.2 1948.5,322.3 1949.0,369.3 1949.5,327.6 1950.0,383.7 1950.5,337.5 1951.0,371.9 1951.5,324.3 1952.0,371.5 1952.5,324.8 1953.0,373.3 1953.5,323.9 1954.0,372.6 1954.5,323.4 1955.0,377.5 1955.5,332.0 1956.0,372.1 1956.5,329.5 1957.0,369.7 1957.5,320.4 1958.0,375.5 1958.5,327.5 1959.0,369.1 1959.5,324.6 1960.0,369.2 1960.5,331.6 1961.0,374.3 1961.5,330.1 1962.0,369.8 1962.5,325.3 1963.0,371.2 1963.5,318.3 1964.0,366.4 1964.5,320.3 1965.0,362.2 1965.5,309.9 1966.0,367.7 1966.5,323.5 1967.0,365.8 1967.5,319.5 1968.0,375.2 1968.5,312.3 1969.0,369.5 1969.5,316.0 1970.0,362.4 1970.5,317.2 1971.0,360.4 1971.5,321.2 1972.0,368.0 1972.5,311.6 1973.0,363.8 1973.5,324.5 1974.0,367.2 1974.5,315.5 1975.0,361.0 1975.5,314.3 1976.0,369.0 1976.5,322.4 1977.0,368.7 1977.5,323.2 1978.0,373.1 1978.5,321.0 1979.0,371.3 1979.5,319.7 1980.0,366.9 1980.5,322.7 1981.0,365.8 1981.5,320.6 1982.0,383.9 1982.5,319.9 1983.0,363.7 1983.5,316.8 1984.0,356.9 1984.5,317.8 1985.0,359.8 1985.5,315.1 1986.0,362.3 1986.5,319.9 1987.0,365.9 1987.5,325.5 1988.0,370.4 1988.5,319.7 1989.0,367.4 1989.5,333.9 1990.0,374.8 1990.5,324.2 1991.0,375.6 1991.5,330.5 1992.0,370.4 1992.5,331.8 1993.0,377.8 1993.5,324.4 1994.0,378.4 1994.5,335.3 1995.0,374.4 1995.5,328.8 1996.0,379.2 1996.5,333.1 1997.0,371.5 1997.5,328.1 1998.0,374.9 1998.5,316.8 1999.0,378.7 1999.5,329.8 2000.0,365.4 2000.5,316.1 2001.0,353.9 2001.5,309.7 2002.0,364.8 2002.5,314.3 2003.0,363.0 2003.5,318.3 2004.0,357.9 2004.5,313.7 2005.0,362.7 2005.5,313.4 2006.0,366.3 2006.5,312.5 2007.0,359.8 2007.5,313.6 2008.0,359.0 2008.5,321.0 2009.0,354.9 2009.5,313.0 2010.0,360.2 2010.5,309.2 2011.0,363.6 2011.5,309.7 2012.0,351.4 2012.5,315.9 2013.0,356.5 2013.5,312.8 2014.0,364.7 2014.5,317.9 2015.0,362.1 2015.5,327.6 2016.0,372.3 2016.5,321.8 2017.0,358.1 2017.5,311.3 2018.0,356.4 2018.5,312.1 2019.0,357.7 2019.5,306.2 2020.0,353.8 2020.5,311.6 2021.0,363.3 2021.5,313.6 2022.0,370.8 2022.5,329.8 2023.0,369.7 2023.5,321.4 2024.0,369.4 2024.5,326.5 2025.0,368.7 2025.5,326.0 2026.0,370.5 2026.5,324.6 2027.0,359.9 2027.5,317.8 2028.0,366.8 2028.5,325.5 2029.0,370.3 2029.5,329.3 2030.0,368.1 2030.5,325.7 2031.0,368.8 2031.5,327.2 2032.0,367.7 2032.5,324.3 2033.0,367.2 2033.5,323.3 2034.0,369.1 2034.5,325.7 2035.0,361.7 2035.5,331.1 2036.0,367.7 2036.5,326.1 2037.0,368.4 2037.5,322.1 2038.0,363.8 2038.5,320.2 2039.0,358.6 2039.5,315.8 2040.0,357.6 2040.5,313.6 2041.0,357.8 2041.5,313.2 2042.0,365.5 2042.5,318.8 2043.0,376.2 2043.5,318.8 2044.0,376.3 2044.5,324.1 2045.0,362.1 2045.5,321.0 2046.0,362.7 2046.5,322.8 2047.0,359.2 2047.5,315.1 2048.0,356.0 2048.5,318.5 2049.0,363.5 2049.5,315.5 2050.0,378.4 2050.5,313.3 2051.0,368.7 2051.5,321.7 2052.0,358.2 2052.5,308.4 2053.0,350.9 2053.5,303.4 2054.0,360.8 2054.5,320.4 2055.0,363.0 2055.5,318.9 2056.0,364.3 2056.5,324.7 2057.0,363.0 2057.5,312.6 2058.0,366.0 2058.5,305.5 2059.0,340.9 2059.5,301.6 2060.0,354.9 2060.5,312.9 2061.0,358.7 2061.5,318.7 2062.0,362.0 2062.5,318.5 2063.0,355.3 2063.5,312.6 2064.0,357.3 2064.5,322.2 2065.0,361.6 2065.5,307.8 2066.0,353.1 2066.5,308.0 2067.0,361.0 2067.5,309.8 2068.0,349.9 2068.5,307.9 2069.0,358.2 2069.5,309.4 2070.0,362.8 2070.5,309.1 2071.0,354.1 2071.5,310.7 2072.0,362.1 2072.5,313.6 2073.0,354.2 2073.5,310.1 2074.0,352.8 2074.5,309.1 2075.0,348.9 2075.5,305.7 2076.0,345.0 2076.5,296.3 2077.0,343.6 2077.5,303.5 2078.0,352.0 2078.5,299.2 2079.0,356.2" fill="none" stroke="#f00" stroke-width="1.8" stroke-linejoin="round"/>
<line x1="821.3" y1="1216.3" x2="821.3" y2="1269" stroke="#f00" stroke-width="2"/>
<line x1="1895" y1="349.0" x2="1895" y2="408" stroke="#f00" stroke-width="2"/>
<line class="mul" x1="590.4" y1="107.8" x2="2079.0" y2="107.8" stroke="#8c8c8c" stroke-width="2.6"/>
<line x1="217.0" y1="46.0" x2="2079.0" y2="46.0" stroke="#4a4a4a" stroke-width="2.8"/>
<line x1="217.0" y1="1344.0" x2="2079.0" y2="1344.0" stroke="#4a4a4a" stroke-width="2.8"/>
<line x1="589.4" y1="1344.0" x2="589.4" y2="1328.0" stroke="#000" stroke-width="2.2"/>
<line x1="589.4" y1="46.0" x2="589.4" y2="62.0" stroke="#000" stroke-width="2.2"/>
<line x1="961.8" y1="1344.0" x2="961.8" y2="1328.0" stroke="#000" stroke-width="2.2"/>
<line x1="961.8" y1="46.0" x2="961.8" y2="62.0" stroke="#000" stroke-width="2.2"/>
<line x1="1334.2" y1="1344.0" x2="1334.2" y2="1328.0" stroke="#000" stroke-width="2.2"/>
<line x1="1334.2" y1="46.0" x2="1334.2" y2="62.0" stroke="#000" stroke-width="2.2"/>
<line x1="1706.6" y1="1344.0" x2="1706.6" y2="1328.0" stroke="#000" stroke-width="2.2"/>
<line x1="1706.6" y1="46.0" x2="1706.6" y2="62.0" stroke="#000" stroke-width="2.2"/>
<line x1="217.0" y1="44.6" x2="217.0" y2="1345.4" stroke="#00f" stroke-width="2.6"/>
<line x1="217.0" y1="1344.0" x2="234.0" y2="1344.0" stroke="#00f" stroke-width="2.2"/>
<line x1="2079.0" y1="1344.0" x2="2062.0" y2="1344.0" stroke="#00f" stroke-width="2.2"/>
<line x1="217.0" y1="1127.7" x2="234.0" y2="1127.7" stroke="#00f" stroke-width="2.2"/>
<line x1="2079.0" y1="1127.7" x2="2062.0" y2="1127.7" stroke="#00f" stroke-width="2.2"/>
<line x1="217.0" y1="911.3" x2="234.0" y2="911.3" stroke="#00f" stroke-width="2.2"/>
<line x1="2079.0" y1="911.3" x2="2062.0" y2="911.3" stroke="#00f" stroke-width="2.2"/>
<line x1="217.0" y1="695.0" x2="234.0" y2="695.0" stroke="#00f" stroke-width="2.2"/>
<line x1="2079.0" y1="695.0" x2="2062.0" y2="695.0" stroke="#00f" stroke-width="2.2"/>
<line x1="217.0" y1="478.7" x2="234.0" y2="478.7" stroke="#00f" stroke-width="2.2"/>
<line x1="2079.0" y1="478.7" x2="2062.0" y2="478.7" stroke="#00f" stroke-width="2.2"/>
<line x1="217.0" y1="262.3" x2="234.0" y2="262.3" stroke="#00f" stroke-width="2.2"/>
<line x1="2079.0" y1="262.3" x2="2062.0" y2="262.3" stroke="#00f" stroke-width="2.2"/>
<line x1="217.0" y1="46.0" x2="234.0" y2="46.0" stroke="#00f" stroke-width="2.2"/>
<line x1="2079.0" y1="46.0" x2="2062.0" y2="46.0" stroke="#00f" stroke-width="2.2"/>
<line x1="2079.0" y1="1344.0" x2="2062.0" y2="1344.0" stroke="#f00" stroke-width="2.2"/>
<line x1="2079.0" y1="1214.2" x2="2062.0" y2="1214.2" stroke="#f00" stroke-width="2.2"/>
<line x1="2079.0" y1="1084.4" x2="2062.0" y2="1084.4" stroke="#f00" stroke-width="2.2"/>
<line x1="2079.0" y1="954.6" x2="2062.0" y2="954.6" stroke="#f00" stroke-width="2.2"/>
<line x1="2079.0" y1="824.8" x2="2062.0" y2="824.8" stroke="#f00" stroke-width="2.2"/>
<line x1="2079.0" y1="695.0" x2="2062.0" y2="695.0" stroke="#f00" stroke-width="2.2"/>
<line x1="2079.0" y1="565.2" x2="2062.0" y2="565.2" stroke="#f00" stroke-width="2.2"/>
<line x1="2079.0" y1="435.4" x2="2062.0" y2="435.4" stroke="#f00" stroke-width="2.2"/>
<line x1="2079.0" y1="305.6" x2="2062.0" y2="305.6" stroke="#f00" stroke-width="2.2"/>
<line x1="2079.0" y1="175.8" x2="2062.0" y2="175.8" stroke="#f00" stroke-width="2.2"/>
<line x1="2079.0" y1="46.0" x2="2062.0" y2="46.0" stroke="#f00" stroke-width="2.2"/>
<line x1="2079.0" y1="44.6" x2="2079.0" y2="1345.4" stroke="#f00" stroke-width="2.2"/>
<rect x="589.4" y="83" width="1490.6" height="48.5" fill="none" stroke="#5a5a5a" stroke-width="2.6"/>
<text class="ser" x="197" y="1367.5" font-size="68.5" fill="#00f" text-anchor="end">0</text>
<text class="ser" x="197" y="1151.2" font-size="68.5" fill="#00f" text-anchor="end">3</text>
<text class="ser" x="197" y="934.8" font-size="68.5" fill="#00f" text-anchor="end">6</text>
<text class="ser" x="197" y="718.5" font-size="68.5" fill="#00f" text-anchor="end">9</text>
<text class="ser" x="197" y="502.2" font-size="68.5" fill="#00f" text-anchor="end">12</text>
<text class="ser" x="197" y="285.8" font-size="68.5" fill="#00f" text-anchor="end">15</text>
<text class="ser" x="197" y="69.5" font-size="68.5" fill="#00f" text-anchor="end">18</text>
<text class="ser" x="2101" y="1367.0" font-size="67" fill="#f00">0</text>
<text class="ser" x="2101" y="1237.2" font-size="67" fill="#f00">20</text>
<text class="ser" x="2101" y="1107.4" font-size="67" fill="#f00">40</text>
<text class="ser" x="2101" y="977.6" font-size="67" fill="#f00">60</text>
<text class="ser" x="2101" y="847.8" font-size="67" fill="#f00">80</text>
<text class="ser" x="2101" y="718.0" font-size="67" fill="#f00">100</text>
<text class="ser" x="2101" y="588.2" font-size="67" fill="#f00">120</text>
<text class="ser" x="2101" y="458.4" font-size="67" fill="#f00">140</text>
<text class="ser" x="2101" y="328.6" font-size="67" fill="#f00">160</text>
<text class="ser" x="2101" y="198.8" font-size="67" fill="#f00">180</text>
<text class="ser" x="2101" y="69.0" font-size="67" fill="#f00">200</text>
<text class="ser" x="217.0" y="1424.5" font-size="69" fill="#000" text-anchor="middle">0</text>
<text class="ser" x="589.4" y="1424.5" font-size="69" fill="#000" text-anchor="middle">1000</text>
<text class="ser" x="961.8" y="1424.5" font-size="69" fill="#000" text-anchor="middle">2000</text>
<text class="ser" x="1334.2" y="1424.5" font-size="69" fill="#000" text-anchor="middle">3000</text>
<text class="ser" x="1706.6" y="1424.5" font-size="69" fill="#000" text-anchor="middle">4000</text>
<text class="ser" x="2079.0" y="1424.5" font-size="69" fill="#000" text-anchor="middle">5000</text>
<text class="san" transform="translate(104,1120) rotate(-90)" font-size="68" fill="#00f" textLength="850" lengthAdjust="spacingAndGlyphs">Real vibration amplitude(μm)</text>
<text class="san" x="1002.5" y="1507" font-size="68" fill="#000" textLength="290" lengthAdjust="spacingAndGlyphs">Time(ms)</text>
<g transform="translate(2296,804) rotate(-90)" fill="#f00"><text class="ser" x="0" y="0" font-size="82" font-weight="bold" textLength="46" lengthAdjust="spacingAndGlyphs">R</text><text class="ser" x="48" y="14" font-size="59" font-weight="bold">1</text><text class="ser" x="106" y="-13" font-size="73" textLength="88" lengthAdjust="spacingAndGlyphs">(Ω)</text></g>
<text class="san" x="937" y="229" font-size="76" fill="#0070c0" textLength="470" lengthAdjust="spacingAndGlyphs">2% error band</text>
<rect x="1274.5" y="1134.5" width="779" height="185" fill="#fff" stroke="#444" stroke-width="2.5"/>
<line x1="2053.8" y1="1133.5" x2="2053.8" y2="1319" stroke="#808080" stroke-width="3.6"/>
<line x1="1273.5" y1="1321" x2="2052" y2="1321" stroke="#b0b0b0" stroke-width="1.6"/>
<line x1="1281.5" y1="1175.4" x2="1360.5" y2="1175.4" stroke="#00f" stroke-width="2.2"/>
<line x1="1281.5" y1="1264.8" x2="1360.5" y2="1264.8" stroke="#f00" stroke-width="2.2"/>
<text class="ser" x="1404" y="1200" font-size="60" font-weight="bold" fill="#000" textLength="614" lengthAdjust="spacingAndGlyphs">Real vibration amplitude</text>
<text class="ser" x="1404" y="1280" font-size="61" font-weight="bold" fill="#000" textLength="37" lengthAdjust="spacingAndGlyphs">R</text>
<text class="ser" x="1441" y="1287.5" font-size="39" font-weight="bold" fill="#000">1</text>
</svg></body></html>
